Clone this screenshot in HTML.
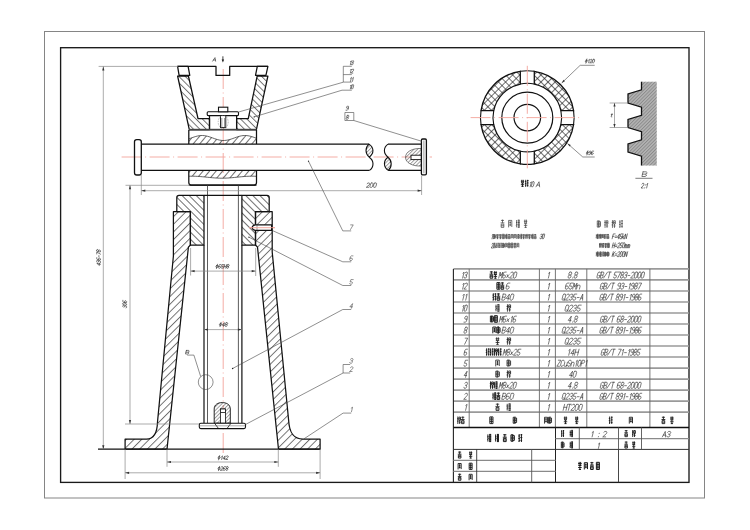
<!DOCTYPE html><html><head><meta charset="utf-8"><title>Screw jack assembly drawing</title><style>html,body{margin:0;padding:0;background:#fff;width:750px;height:530px;overflow:hidden}svg{display:block;font-family:"Liberation Sans",sans-serif}</style></head><body><svg width="750" height="530" viewBox="0 0 750 530" font-family="Liberation Sans, sans-serif"><defs>
<pattern id="hA" patternUnits="userSpaceOnUse" width="5.4" height="10" patternTransform="rotate(45)"><line x1="0.5" y1="0" x2="0.5" y2="10" stroke="#222" stroke-width="0.65"/></pattern>
<pattern id="hB" patternUnits="userSpaceOnUse" width="5.0" height="10" patternTransform="rotate(-45)"><line x1="0.5" y1="0" x2="0.5" y2="10" stroke="#222" stroke-width="0.65"/></pattern>
<pattern id="hC" patternUnits="userSpaceOnUse" width="4.5" height="10" patternTransform="rotate(-45)"><line x1="0.5" y1="0" x2="0.5" y2="10" stroke="#222" stroke-width="0.65"/></pattern>
<pattern id="hH" patternUnits="userSpaceOnUse" width="5.0" height="10" patternTransform="rotate(40)"><line x1="0.5" y1="0" x2="0.5" y2="10" stroke="#222" stroke-width="0.65"/></pattern>
<pattern id="hS" patternUnits="userSpaceOnUse" width="2.6" height="10" patternTransform="rotate(45)"><line x1="0.5" y1="0" x2="0.5" y2="10" stroke="#333" stroke-width="0.5"/></pattern>
<pattern id="hX" patternUnits="userSpaceOnUse" width="5.0" height="5.0" patternTransform="rotate(45)"><path d="M0.5,0 V5 M0,0.5 H5" stroke="#222" stroke-width="0.65" fill="none"/></pattern>
<pattern id="hD" patternUnits="userSpaceOnUse" width="2.4" height="10" patternTransform="rotate(45)"><line x1="0.5" y1="0" x2="0.5" y2="10" stroke="#777" stroke-width="0.7"/></pattern>
</defs><rect width="750" height="530" fill="#fff"/><rect x="44.5" y="31.5" width="660" height="466.5" fill="none" stroke="#858585" stroke-width="1"/>
<rect x="60.6" y="47.7" width="628.4" height="434.7" fill="none" stroke="#1a1a1a" stroke-width="1.35"/>
<line x1="223.20" y1="69.00" x2="223.20" y2="453.00" stroke="#f3a49b" stroke-width="0.9" fill="none" stroke-dasharray="20 3.5 1 3.5"/>
<line x1="121.60" y1="157.00" x2="432.00" y2="157.00" stroke="#f3a49b" stroke-width="0.9" fill="none" stroke-dasharray="20 3.5 1 3.5"/>
<line x1="249.00" y1="227.70" x2="275.00" y2="227.70" stroke="#f3a49b" stroke-width="0.9"/>
<path d="M177.6,66.4 H216 V75.4 H229.7 V66.4 H267.9" stroke="#111" stroke-width="1.25" fill="none" stroke-linejoin="round"/>
<path d="M177.60,66.40 L188.10,66.40 L189.80,75.30 L179.10,75.30 Z" stroke="#111" stroke-width="1.25" fill="none" stroke-linejoin="round"/>
<path d="M257.30,66.40 L267.90,66.40 L265.90,75.30 L255.50,75.30 Z" stroke="#111" stroke-width="1.25" fill="none" stroke-linejoin="round"/>
<path d="M177.60,76.00 L188.40,76.00 L198.00,118.50 L209.50,118.50 L209.50,129.60 L189.30,129.60 Z" fill="url(#hC)" stroke="none"/>
<path d="M177.60,76.00 L188.40,76.00 L198.00,118.50 L209.50,118.50 L209.50,129.60 L189.30,129.60 Z" stroke="#111" stroke-width="1.25" fill="none" stroke-linejoin="round"/>
<path d="M267.90,76.00 L257.20,76.00 L248.30,118.50 L236.60,118.50 L236.60,129.60 L256.40,129.60 Z" fill="url(#hC)" stroke="none"/>
<path d="M267.90,76.00 L257.20,76.00 L248.30,118.50 L236.60,118.50 L236.60,129.60 L256.40,129.60 Z" stroke="#111" stroke-width="1.25" fill="none" stroke-linejoin="round"/>
<line x1="209.50" y1="116.00" x2="209.50" y2="129.60" stroke="#111" stroke-width="1.25" fill="none" stroke-linejoin="round"/>
<line x1="236.60" y1="116.00" x2="236.60" y2="129.60" stroke="#111" stroke-width="1.25" fill="none" stroke-linejoin="round"/>
<rect x="207.2" y="111.8" width="31.3" height="3.8" rx="1" fill="#fff" stroke="#111" stroke-width="1.1"/>
<rect x="218.5" y="107.2" width="9.3" height="4.6" fill="#fff" stroke="#111" stroke-width="1.1"/>
<rect x="220.5" y="115.6" width="5.3" height="12" fill="#fff" stroke="#111" stroke-width="0.9"/>
<line x1="221.80" y1="118.00" x2="221.80" y2="127.00" stroke="#555" stroke-width="0.6" fill="none"/>
<line x1="224.50" y1="118.00" x2="224.50" y2="127.00" stroke="#555" stroke-width="0.6" fill="none"/>
<ellipse cx="223.2" cy="122" rx="5" ry="6.5" fill="none" stroke="#777" stroke-width="0.5" stroke-dasharray="1.5 1"/>
<rect x="189" y="128.8" width="67.5" height="1.8" fill="#444"/>
<path d="M188.8,130 V144.1 M256.5,130 V144.1 M188.8,170.5 V182.5 Q188.8,185 191.3,185 H254 Q256.5,185 256.5,182.5 V170.5" stroke="#111" stroke-width="1.25" fill="none" stroke-linejoin="round"/>
<line x1="188.80" y1="185.00" x2="256.50" y2="185.00" stroke="#111" stroke-width="1.25" fill="none" stroke-linejoin="round"/>
<path d="M189.00,138.81 L190.69,138.21 L192.38,137.59 L194.06,137.00 L195.75,136.47 L197.44,136.04 L199.12,135.72 L200.81,135.54 L202.50,135.51 L204.19,135.63 L205.88,135.89 L207.56,136.28 L209.25,136.78 L210.94,137.35 L212.62,137.95 L214.31,138.57 L216.00,139.14 L217.69,139.65 L219.38,140.06 L221.06,140.34 L222.75,140.49 L224.44,140.48 L226.12,140.32 L227.81,140.02 L229.50,139.60 L231.19,139.08 L232.88,138.50 L234.56,137.89 L236.25,137.28 L237.94,136.72 L239.62,136.23 L241.31,135.85 L243.00,135.61 L244.69,135.50 L246.38,135.55 L248.06,135.75 L249.75,136.08 L251.44,136.53 L253.12,137.06 L254.81,137.66 L256.50,138.27 L256.50,144.10 L189.00,144.10 Z" fill="url(#hH)" stroke="none"/>
<path d="M189.00,138.81 L190.69,138.21 L192.38,137.59 L194.06,137.00 L195.75,136.47 L197.44,136.04 L199.12,135.72 L200.81,135.54 L202.50,135.51 L204.19,135.63 L205.88,135.89 L207.56,136.28 L209.25,136.78 L210.94,137.35 L212.62,137.95 L214.31,138.57 L216.00,139.14 L217.69,139.65 L219.38,140.06 L221.06,140.34 L222.75,140.49 L224.44,140.48 L226.12,140.32 L227.81,140.02 L229.50,139.60 L231.19,139.08 L232.88,138.50 L234.56,137.89 L236.25,137.28 L237.94,136.72 L239.62,136.23 L241.31,135.85 L243.00,135.61 L244.69,135.50 L246.38,135.55 L248.06,135.75 L249.75,136.08 L251.44,136.53 L253.12,137.06 L254.81,137.66 L256.50,138.27" stroke="#222" stroke-width="0.7" fill="none"/>
<path d="M189.00,170.60 L256.50,170.60 L256.50,176.31 L254.81,176.24 L253.12,176.21 L251.44,176.20 L249.75,176.23 L248.06,176.28 L246.38,176.37 L244.69,176.48 L243.00,176.61 L241.31,176.76 L239.62,176.93 L237.94,177.10 L236.25,177.28 L234.56,177.45 L232.88,177.62 L231.19,177.77 L229.50,177.91 L227.81,178.02 L226.12,178.11 L224.44,178.17 L222.75,178.20 L221.06,178.20 L219.38,178.16 L217.69,178.10 L216.00,178.01 L214.31,177.89 L212.62,177.76 L210.94,177.60 L209.25,177.43 L207.56,177.26 L205.88,177.08 L204.19,176.91 L202.50,176.75 L200.81,176.60 L199.12,176.47 L197.44,176.36 L195.75,176.28 L194.06,176.22 L192.38,176.20 L190.69,176.21 L189.00,176.25 Z" fill="url(#hH)" stroke="none"/>
<path d="M189.00,176.25 L190.69,176.21 L192.38,176.20 L194.06,176.22 L195.75,176.28 L197.44,176.36 L199.12,176.47 L200.81,176.60 L202.50,176.75 L204.19,176.91 L205.88,177.08 L207.56,177.26 L209.25,177.43 L210.94,177.60 L212.62,177.76 L214.31,177.89 L216.00,178.01 L217.69,178.10 L219.38,178.16 L221.06,178.20 L222.75,178.20 L224.44,178.17 L226.12,178.11 L227.81,178.02 L229.50,177.91 L231.19,177.77 L232.88,177.62 L234.56,177.45 L236.25,177.28 L237.94,177.10 L239.62,176.93 L241.31,176.76 L243.00,176.61 L244.69,176.48 L246.38,176.37 L248.06,176.28 L249.75,176.23 L251.44,176.20 L253.12,176.21 L254.81,176.24 L256.50,176.31" stroke="#222" stroke-width="0.7" fill="none"/>
<rect x="134.5" y="139.6" width="6.8" height="35.4" rx="2.2" fill="none" stroke="#111" stroke-width="1.3"/>
<path d="M141.3,144.1 H369 M141.3,170.4 H369.5 M388,144.1 H421.5 M388.3,170.4 H421.5" stroke="#111" stroke-width="1.25" fill="none" stroke-linejoin="round"/>
<path d="M369,144.1 C365,147.5 365,153.5 369.2,157.2 C374.2,153.5 374.2,147.5 369,144.1 Z" fill="url(#hS)" stroke="none"/>
<path d="M369,144.1 C365,147.5 365,153.5 369.2,157.2 C374.2,153.5 374.2,147.5 369,144.1 Z" stroke="#111" stroke-width="1.1" fill="none"/>
<path d="M369.2,157.2 C374.2,160.5 374.2,166.8 369.5,170.4" stroke="#111" stroke-width="1.1" fill="none"/>
<path d="M388,144.1 C383.2,147.5 383.2,153.5 388,157.2" stroke="#111" stroke-width="1.1" fill="none"/>
<path d="M388,157.2 C383.2,160.5 383.2,166.8 388.3,170.4 C392.2,166.8 392.2,160.5 388,157.2 Z" fill="url(#hS)" stroke="none"/>
<path d="M388,157.2 C383.2,160.5 383.2,166.8 388.3,170.4 C392.2,166.8 392.2,160.5 388,157.2 Z" stroke="#111" stroke-width="1.1" fill="none"/>
<path d="M421.4,148.5 C412,148 405.5,152 405.5,157.3 C405.5,162.5 412,166.5 421.4,166 Z" fill="url(#hS)" stroke="none"/>
<path d="M421.4,148.5 C412,148 405.5,152 405.5,157.3 C405.5,162.5 412,166.5 421.4,166 Z" stroke="#333" stroke-width="0.6" fill="none"/>
<rect x="411" y="155.2" width="10.4" height="4.4" fill="#fff" stroke="#111" stroke-width="0.9"/>
<rect x="421.4" y="139" width="5" height="35.8" rx="1.2" fill="#fff" stroke="#111" stroke-width="1.3"/>
<line x1="423.90" y1="140.50" x2="423.90" y2="173.30" stroke="#555" stroke-width="0.6" fill="none"/>
<line x1="207.50" y1="185.00" x2="207.50" y2="423.00" stroke="#333" stroke-width="0.8"/>
<line x1="238.40" y1="185.00" x2="238.40" y2="423.00" stroke="#333" stroke-width="0.8"/>
<line x1="204.00" y1="245.00" x2="204.00" y2="423.20" stroke="#111" stroke-width="1.2"/>
<line x1="241.90" y1="245.00" x2="241.90" y2="423.20" stroke="#111" stroke-width="1.2"/>
<path d="M176.8,211.7 V197.5 Q176.8,195.3 179,195.3 H204 V245 H190.4 V211.7 Z" fill="url(#hB)" stroke="none"/>
<path d="M176.8,211.7 V197.5 Q176.8,195.3 179,195.3 H204 V245 H190.4 V211.7 Z" stroke="#111" stroke-width="1.25" fill="none" stroke-linejoin="round"/>
<path d="M241.9,195.3 H267 Q269.2,195.3 269.2,197.5 V211.7 H255.5 V245 H241.9 Z" fill="url(#hB)" stroke="none"/>
<path d="M241.9,195.3 H267 Q269.2,195.3 269.2,197.5 V211.7 H255.5 V245 H241.9 Z" stroke="#111" stroke-width="1.25" fill="none" stroke-linejoin="round"/>
<line x1="204.00" y1="195.30" x2="241.90" y2="195.30" stroke="#111" stroke-width="1.25" fill="none" stroke-linejoin="round"/>
<path d="M173.4,211.7 H190.4 V245 L188.4,247.2 L167,449.2 H125.1 V439.1 H146.5 C153,439 157.2,433 157.5,422 L173.4,256 Z" fill="url(#hA)" stroke="none"/>
<path d="M173.4,211.7 H190.4 V245 L188.4,247.2 L167,449.2 H125.1 V439.1 H146.5 C153,439 157.2,433 157.5,422 L173.4,256 Z" stroke="#111" stroke-width="1.25" fill="none" stroke-linejoin="round"/>
<path d="M255.5,211.7 H272.2 V252 L288.6,420 C289.3,433 293.5,439 303,439.1 H320.1 V449.2 H278.5 L257.5,247.2 L255.5,245 Z" fill="url(#hA)" stroke="none"/>
<path d="M255.5,211.7 H272.2 V252 L288.6,420 C289.3,433 293.5,439 303,439.1 H320.1 V449.2 H278.5 L257.5,247.2 L255.5,245 Z" stroke="#111" stroke-width="1.25" fill="none" stroke-linejoin="round"/>
<path d="M255.2,224.8 H271.6 V230.4 H255.2 Q252.2,229.8 252.2,227.6 Q252.2,225.4 255.2,224.8 Z" stroke="#111" stroke-width="1.2" fill="#fff"/>
<line x1="257.00" y1="224.90" x2="257.00" y2="230.30" stroke="#333" stroke-width="0.5"/>
<line x1="249.00" y1="227.70" x2="275.00" y2="227.70" stroke="#f3a49b" stroke-width="0.9"/>
<line x1="98.00" y1="449.20" x2="320.10" y2="449.20" stroke="#111" stroke-width="1.2"/>
<path d="M214.2,423.2 V409 C214.2,404.5 218,402.6 222.2,402.6 C226.5,402.6 230.3,404.5 230.3,409 V423.2 Z" fill="url(#hS)" stroke="none"/>
<path d="M214.2,423.2 V409 C214.2,404.5 218,402.6 222.2,402.6 C226.5,402.6 230.3,404.5 230.3,409 V423.2 Z" stroke="#111" stroke-width="0.9" fill="none"/>
<rect x="220.4" y="409" width="5" height="14.2" fill="#fff" stroke="#111" stroke-width="0.8"/>
<rect x="220.4" y="409" width="5" height="3.5" fill="#fff" stroke="#111" stroke-width="0.8"/>
<rect x="199.3" y="423.2" width="46.2" height="5.4" rx="1.5" fill="#fff" stroke="#111" stroke-width="1.1"/>
<path d="M214.5,423.2 L218.5,428.5 M231,423.2 L227,428.5" stroke="#111" stroke-width="0.8" fill="none"/>
<line x1="199.30" y1="425.80" x2="245.50" y2="425.80" stroke="#555" stroke-width="0.5"/>
<line x1="98.60" y1="66.40" x2="178.00" y2="66.40" stroke="#888" stroke-width="0.7"/>
<line x1="103.30" y1="66.40" x2="103.30" y2="449.20" stroke="#888" stroke-width="0.7"/>
<path d="M103.30,66.40 L104.40,70.40 L102.20,70.40 Z" fill="#333" stroke="none"/>
<path d="M103.30,449.20 L102.20,445.20 L104.40,445.20 Z" fill="#333" stroke="none"/>
<path d="M94.26,258.00L95.20,254.26L93.03,256.88L95.05,256.88M96.21,254.88L96.87,254.26L97.88,254.26L98.23,254.88L98.07,255.50L97.41,256.13L96.70,256.13M97.41,256.13L97.76,256.75L97.60,257.38L96.94,258.00L95.93,258.00L95.58,257.38M100.86,254.26L99.54,254.26L98.88,254.88L98.26,257.38L98.61,258.00L99.62,258.00L100.28,257.38L100.43,256.75L100.08,256.13L98.57,256.13M101.49,256.38L102.90,256.38M104.49,254.26L106.51,254.26L104.31,258.00M107.67,254.26L108.68,254.26L109.03,254.88L108.87,255.50L108.21,256.13L107.20,256.13L106.85,255.50L107.01,254.88L107.67,254.26M107.20,256.13L106.54,256.75L106.39,257.38L106.74,258.00L107.75,258.00L108.41,257.38L108.56,256.75L108.21,256.13" stroke="#2a2a2a" stroke-width="0.62" fill="none" stroke-linecap="round" stroke-linejoin="round" transform="rotate(-90 100.5 258)"/>
<line x1="125.50" y1="185.30" x2="190.00" y2="185.30" stroke="#888" stroke-width="0.7"/>
<line x1="125.00" y1="424.00" x2="199.00" y2="424.00" stroke="#888" stroke-width="0.7"/>
<line x1="130.00" y1="185.30" x2="130.00" y2="424.00" stroke="#888" stroke-width="0.7"/>
<path d="M130.00,185.30 L131.10,189.30 L128.90,189.30 Z" fill="#333" stroke="none"/>
<path d="M130.00,424.00 L128.90,420.00 L131.10,420.00 Z" fill="#333" stroke="none"/>
<path d="M123.88,301.38L124.52,300.76L125.47,300.76L125.80,301.38L125.64,302.00L125.01,302.63L124.34,302.63M125.01,302.63L125.33,303.25L125.17,303.88L124.54,304.50L123.58,304.50L123.26,303.88M127.06,300.76L128.02,300.76L128.34,301.38L127.71,303.88L127.08,304.50L126.12,304.50L125.80,303.88L126.42,301.38L127.06,300.76M130.84,300.76L129.60,300.76L128.96,301.38L128.34,303.88L128.66,304.50L129.62,304.50L130.26,303.88L130.41,303.25L130.09,302.63L128.65,302.63" stroke="#2a2a2a" stroke-width="0.62" fill="none" stroke-linecap="round" stroke-linejoin="round" transform="rotate(-90 126.6 304.5)"/>
<line x1="141.30" y1="175.00" x2="141.30" y2="195.00" stroke="#888" stroke-width="0.7"/>
<line x1="421.60" y1="175.50" x2="421.60" y2="195.00" stroke="#888" stroke-width="0.7"/>
<line x1="141.30" y1="190.70" x2="421.60" y2="190.70" stroke="#888" stroke-width="0.7"/>
<path d="M141.30,190.70 L145.30,189.60 L145.30,191.80 Z" fill="#333" stroke="none"/>
<path d="M421.60,190.70 L417.60,191.80 L417.60,189.60 Z" fill="#333" stroke="none"/>
<path d="M367.15,183.70L367.98,182.98L369.28,182.98L369.75,183.70L369.54,184.56L366.25,187.30L368.85,187.30M371.43,182.98L372.73,182.98L373.20,183.70L372.48,186.58L371.65,187.30L370.35,187.30L369.88,186.58L370.60,183.70L371.43,182.98M374.88,182.98L376.18,182.98L376.65,183.70L375.93,186.58L375.10,187.30L373.80,187.30L373.33,186.58L374.05,183.70L374.88,182.98" stroke="#2a2a2a" stroke-width="0.62" fill="none" stroke-linecap="round" stroke-linejoin="round"/>
<line x1="190.60" y1="248.00" x2="190.60" y2="275.50" stroke="#888" stroke-width="0.7"/>
<line x1="255.70" y1="248.00" x2="255.70" y2="276.00" stroke="#888" stroke-width="0.7"/>
<line x1="190.60" y1="271.10" x2="255.70" y2="271.10" stroke="#888" stroke-width="0.7"/>
<path d="M190.60,271.10 L194.60,270.00 L194.60,272.20 Z" fill="#333" stroke="none"/>
<path d="M255.70,271.10 L251.70,272.20 L251.70,270.00 Z" fill="#333" stroke="none"/>
<path d="M217.52,264.24L216.44,268.56M216.71,265.44L217.74,265.44L218.10,266.04L217.92,266.76L217.26,267.36L216.23,267.36L215.86,266.76L216.04,266.04L216.71,265.44M220.99,264.60L219.65,264.60L218.98,265.20L218.38,267.60L218.75,268.20L219.78,268.20L220.45,267.60L220.60,267.00L220.23,266.40L218.68,266.40M223.93,264.60L222.07,264.60L221.42,266.40L222.97,266.40L223.33,267.00L223.18,267.60L222.52,268.20L221.48,268.20L221.12,267.60M224.60,264.60L223.70,268.20M226.67,264.60L225.77,268.20M224.15,266.40L226.22,266.40M227.85,264.60L228.88,264.60L229.25,265.20L229.10,265.80L228.43,266.40L227.40,266.40L227.04,265.80L227.19,265.20L227.85,264.60M227.40,266.40L226.74,267.00L226.59,267.60L226.95,268.20L227.98,268.20L228.65,267.60L228.80,267.00L228.43,266.40" stroke="#2a2a2a" stroke-width="0.62" fill="none" stroke-linecap="round" stroke-linejoin="round"/>
<line x1="204.00" y1="329.60" x2="241.90" y2="329.60" stroke="#888" stroke-width="0.7"/>
<path d="M204.00,329.60 L208.00,328.50 L208.00,330.70 Z" fill="#333" stroke="none"/>
<path d="M241.90,329.60 L237.90,330.70 L237.90,328.50 Z" fill="#333" stroke="none"/>
<path d="M221.09,322.34L220.01,326.66M220.24,323.54L221.33,323.54L221.73,324.14L221.55,324.86L220.85,325.46L219.76,325.46L219.36,324.86L219.54,324.14L220.24,323.54M223.55,326.30L224.45,322.70L222.17,325.22L224.37,325.22M226.26,322.70L227.35,322.70L227.75,323.30L227.60,323.90L226.90,324.50L225.81,324.50L225.41,323.90L225.56,323.30L226.26,322.70M225.81,324.50L225.11,325.10L224.96,325.70L225.36,326.30L226.45,326.30L227.15,325.70L227.30,325.10L226.90,324.50" stroke="#2a2a2a" stroke-width="0.62" fill="none" stroke-linecap="round" stroke-linejoin="round"/>
<line x1="167.00" y1="449.20" x2="167.00" y2="466.80" stroke="#888" stroke-width="0.7"/>
<line x1="278.30" y1="449.20" x2="278.30" y2="466.80" stroke="#888" stroke-width="0.7"/>
<line x1="167.00" y1="462.00" x2="278.30" y2="462.00" stroke="#888" stroke-width="0.7"/>
<path d="M167.00,462.00 L171.00,460.90 L171.00,463.10 Z" fill="#333" stroke="none"/>
<path d="M278.30,462.00 L274.30,463.10 L274.30,460.90 Z" fill="#333" stroke="none"/>
<path d="M219.64,455.54L218.56,459.86M218.81,456.74L219.86,456.74L220.23,457.34L220.05,458.06L219.38,458.66L218.33,458.66L217.96,458.06L218.14,457.34L218.81,456.74M221.62,456.62L222.53,455.90L221.63,459.50M224.30,459.50L225.20,455.90L223.00,458.42L225.10,458.42M226.26,456.50L226.93,455.90L227.98,455.90L228.35,456.50L228.17,457.22L225.51,459.50L227.60,459.50" stroke="#2a2a2a" stroke-width="0.62" fill="none" stroke-linecap="round" stroke-linejoin="round"/>
<line x1="125.10" y1="449.20" x2="125.10" y2="479.00" stroke="#888" stroke-width="0.7"/>
<line x1="320.10" y1="449.20" x2="320.10" y2="479.00" stroke="#888" stroke-width="0.7"/>
<line x1="125.10" y1="472.80" x2="320.10" y2="472.80" stroke="#888" stroke-width="0.7"/>
<path d="M125.10,472.80 L129.10,471.70 L129.10,473.90 Z" fill="#333" stroke="none"/>
<path d="M320.10,472.80 L316.10,473.90 L316.10,471.70 Z" fill="#333" stroke="none"/>
<path d="M219.60,466.34L218.52,470.66M218.79,467.54L219.80,467.54L220.15,468.14L219.97,468.86L219.32,469.46L218.31,469.46L217.96,468.86L218.14,468.14L218.79,467.54M221.01,467.30L221.67,466.70L222.67,466.70L223.02,467.30L222.84,468.02L220.26,470.30L222.27,470.30M225.64,466.70L224.33,466.70L223.68,467.30L223.08,469.70L223.43,470.30L224.43,470.30L225.09,469.70L225.24,469.10L224.88,468.50L223.38,468.50M226.99,466.70L228.00,466.70L228.35,467.30L228.20,467.90L227.55,468.50L226.54,468.50L226.19,467.90L226.34,467.30L226.99,466.70M226.54,468.50L225.89,469.10L225.74,469.70L226.09,470.30L227.10,470.30L227.75,469.70L227.90,469.10L227.55,468.50" stroke="#2a2a2a" stroke-width="0.62" fill="none" stroke-linecap="round" stroke-linejoin="round"/>
<line x1="222.90" y1="56.30" x2="222.90" y2="60.00" stroke="#111" stroke-width="0.8"/>
<path d="M222.90,62.50 L221.70,59.50 L224.10,59.50 Z" fill="#111" stroke="none"/>
<path d="M212.60,61.20L215.00,57.60L215.60,61.20M213.43,60.00L215.38,60.00" stroke="#2a2a2a" stroke-width="0.62" fill="none" stroke-linecap="round" stroke-linejoin="round"/>
<path d="M343.3,66.3 V82.1 M343.3,66.3 H351.8 M343.3,74.6 H351.8 M343.3,82.1 H351.8" stroke="#444" stroke-width="0.6" fill="none"/>
<line x1="343.30" y1="82.20" x2="238.60" y2="112.00" stroke="#444" stroke-width="0.6"/>
<path d="M350.61,61.57L351.37,60.77L350.36,64.80M352.04,61.44L352.61,60.77L353.41,60.77L353.64,61.44L353.47,62.11L352.90,62.78L352.34,62.78M352.90,62.78L353.14,63.46L352.97,64.13L352.40,64.80L351.60,64.80L351.37,64.13" stroke="#2a2a2a" stroke-width="0.62" fill="none" stroke-linecap="round" stroke-linejoin="round"/>
<path d="M350.61,69.87L351.37,69.07L350.36,73.10M352.04,69.74L352.61,69.07L353.41,69.07L353.64,69.74L353.44,70.55L351.20,73.10L352.80,73.10" stroke="#2a2a2a" stroke-width="0.62" fill="none" stroke-linecap="round" stroke-linejoin="round"/>
<path d="M350.65,78.17L351.47,77.37L350.46,81.40M352.63,78.17L353.45,77.37L352.45,81.40" stroke="#2a2a2a" stroke-width="0.62" fill="none" stroke-linecap="round" stroke-linejoin="round"/>
<line x1="342.00" y1="90.20" x2="351.80" y2="90.20" stroke="#444" stroke-width="0.6"/>
<line x1="342.00" y1="90.20" x2="253.80" y2="117.00" stroke="#444" stroke-width="0.6"/>
<path d="M350.61,85.67L351.37,84.87L350.36,88.90M352.61,84.87L353.41,84.87L353.64,85.54L352.97,88.23L352.40,88.90L351.60,88.90L351.37,88.23L352.04,85.54L352.61,84.87" stroke="#2a2a2a" stroke-width="0.62" fill="none" stroke-linecap="round" stroke-linejoin="round"/>
<circle cx="254.2" cy="116.8" r="0.6" fill="#222"/>
<path d="M344.9,112.5 V120.5 H353.8 V112.5 H344.9" stroke="#444" stroke-width="0.6" fill="none"/>
<line x1="353.80" y1="120.50" x2="421.80" y2="141.30" stroke="#444" stroke-width="0.6"/>
<path d="M348.30,108.18L346.80,108.18L346.47,107.51L346.64,106.84L347.31,106.17L348.31,106.17L348.64,106.84L347.97,109.53L347.30,110.20L346.00,110.20" stroke="#2a2a2a" stroke-width="0.62" fill="none" stroke-linecap="round" stroke-linejoin="round"/>
<path d="M347.51,115.27L348.51,115.27L348.84,115.94L348.67,116.61L348.00,117.28L347.00,117.28L346.67,116.61L346.84,115.94L347.51,115.27M347.00,117.28L346.34,117.96L346.17,118.63L346.50,119.30L347.50,119.30L348.17,118.63L348.34,117.96L348.00,117.28" stroke="#2a2a2a" stroke-width="0.62" fill="none" stroke-linecap="round" stroke-linejoin="round"/>
<line x1="308.50" y1="161.20" x2="342.80" y2="230.90" stroke="#444" stroke-width="0.6"/>
<line x1="342.80" y1="230.90" x2="351.20" y2="230.90" stroke="#444" stroke-width="0.6"/>
<path d="M350.65,224.89L353.25,224.89L350.48,229.50" stroke="#2a2a2a" stroke-width="0.5" fill="none" stroke-linecap="round" stroke-linejoin="round"/>
<circle cx="308.5" cy="161.2" r="0.6" fill="#222"/>
<line x1="272.50" y1="230.60" x2="342.80" y2="261.80" stroke="#444" stroke-width="0.6"/>
<line x1="342.80" y1="261.80" x2="351.20" y2="261.80" stroke="#444" stroke-width="0.6"/>
<path d="M352.99,255.89L351.30,255.89L350.46,256.66L349.69,259.73L350.15,260.50L351.45,260.50L352.29,259.73L352.48,258.96L352.03,258.20L350.08,258.20" stroke="#2a2a2a" stroke-width="0.5" fill="none" stroke-linecap="round" stroke-linejoin="round"/>
<line x1="248.90" y1="237.20" x2="342.80" y2="285.50" stroke="#444" stroke-width="0.6"/>
<line x1="342.80" y1="285.50" x2="351.20" y2="285.50" stroke="#444" stroke-width="0.6"/>
<path d="M353.25,279.59L350.91,279.59L350.08,281.90L352.03,281.90L352.48,282.66L352.29,283.43L351.45,284.20L350.15,284.20L349.69,283.43" stroke="#2a2a2a" stroke-width="0.5" fill="none" stroke-linecap="round" stroke-linejoin="round"/>
<circle cx="248.9" cy="237.2" r="0.6" fill="#222"/>
<line x1="232.60" y1="368.50" x2="342.80" y2="309.50" stroke="#444" stroke-width="0.6"/>
<line x1="342.80" y1="309.50" x2="351.20" y2="309.50" stroke="#444" stroke-width="0.6"/>
<path d="M351.45,308.20L352.60,303.59L349.85,306.82L352.45,306.82" stroke="#2a2a2a" stroke-width="0.5" fill="none" stroke-linecap="round" stroke-linejoin="round"/>
<circle cx="232.6" cy="368.5" r="0.7" fill="#222"/>
<path d="M343.1,364.5 V373 H350.2 M343.1,364.5 H350.2" stroke="#444" stroke-width="0.6" fill="none"/>
<line x1="343.10" y1="373.00" x2="245.50" y2="424.50" stroke="#444" stroke-width="0.6"/>
<path d="M350.46,359.36L351.30,358.59L352.60,358.59L353.06,359.36L352.87,360.13L352.03,360.90L351.12,360.90M352.03,360.90L352.48,361.66L352.29,362.43L351.45,363.20L350.15,363.20L349.69,362.43" stroke="#2a2a2a" stroke-width="0.5" fill="none" stroke-linecap="round" stroke-linejoin="round"/>
<path d="M350.46,367.66L351.30,366.89L352.60,366.89L353.06,367.66L352.83,368.58L349.50,371.50L352.10,371.50" stroke="#2a2a2a" stroke-width="0.5" fill="none" stroke-linecap="round" stroke-linejoin="round"/>
<line x1="343.10" y1="413.10" x2="351.20" y2="413.10" stroke="#444" stroke-width="0.6"/>
<line x1="343.10" y1="413.10" x2="304.00" y2="438.80" stroke="#444" stroke-width="0.6"/>
<path d="M351.23,408.11L352.60,407.19L351.45,411.80" stroke="#2a2a2a" stroke-width="0.5" fill="none" stroke-linecap="round" stroke-linejoin="round"/>
<circle cx="205.7" cy="382.1" r="7.4" fill="none" stroke="#444" stroke-width="0.6"/>
<path d="M187.2,355.1 H193.9 L200.7,376.6" stroke="#444" stroke-width="0.6" fill="none"/>
<path d="M186.40,350.40L185.50,354.00L187.75,354.00L188.65,353.40L188.80,352.80L188.20,352.20L185.95,352.20M186.40,350.40L188.65,350.40L189.25,351.00L189.10,351.60L188.20,352.20" stroke="#2a2a2a" stroke-width="0.62" fill="none" stroke-linecap="round" stroke-linejoin="round"/>
<path d="M573.57,124.60 A46.8,46.8 0 0 1 534.30,163.87 L534.30,151.18 A34.3,34.3 0 0 0 560.88,124.60 Z" fill="url(#hX)" stroke="none"/>
<path d="M573.57,124.60 A46.8,46.8 0 0 1 534.30,163.87 L534.30,151.18 A34.3,34.3 0 0 0 560.88,124.60 Z" stroke="#111" stroke-width="1.3" fill="none" stroke-linejoin="miter"/>
<path d="M520.30,163.87 A46.8,46.8 0 0 1 481.03,124.60 L493.72,124.60 A34.3,34.3 0 0 0 520.30,151.18 Z" fill="url(#hX)" stroke="none"/>
<path d="M520.30,163.87 A46.8,46.8 0 0 1 481.03,124.60 L493.72,124.60 A34.3,34.3 0 0 0 520.30,151.18 Z" stroke="#111" stroke-width="1.3" fill="none" stroke-linejoin="miter"/>
<path d="M481.03,110.60 A46.8,46.8 0 0 1 520.30,71.33 L520.30,84.02 A34.3,34.3 0 0 0 493.72,110.60 Z" fill="url(#hX)" stroke="none"/>
<path d="M481.03,110.60 A46.8,46.8 0 0 1 520.30,71.33 L520.30,84.02 A34.3,34.3 0 0 0 493.72,110.60 Z" stroke="#111" stroke-width="1.3" fill="none" stroke-linejoin="miter"/>
<path d="M534.30,71.33 A46.8,46.8 0 0 1 573.57,110.60 L560.88,110.60 A34.3,34.3 0 0 0 534.30,84.02 Z" fill="url(#hX)" stroke="none"/>
<path d="M534.30,71.33 A46.8,46.8 0 0 1 573.57,110.60 L560.88,110.60 A34.3,34.3 0 0 0 534.30,84.02 Z" stroke="#111" stroke-width="1.3" fill="none" stroke-linejoin="miter"/>
<path d="M573.57,110.60 A46.8,46.8 0 0 1 573.57,124.60 M560.88,110.60 A34.3,34.3 0 0 1 560.88,124.60" stroke="#111" stroke-width="1.1" fill="none"/>
<path d="M534.30,163.87 A46.8,46.8 0 0 1 520.30,163.87 M534.30,151.18 A34.3,34.3 0 0 1 520.30,151.18" stroke="#111" stroke-width="1.1" fill="none"/>
<path d="M481.03,124.60 A46.8,46.8 0 0 1 481.03,110.60 M493.72,124.60 A34.3,34.3 0 0 1 493.72,110.60" stroke="#111" stroke-width="1.1" fill="none"/>
<path d="M520.30,71.33 A46.8,46.8 0 0 1 534.30,71.33 M520.30,84.02 A34.3,34.3 0 0 1 534.30,84.02" stroke="#111" stroke-width="1.1" fill="none"/>
<circle cx="527.3" cy="117.6" r="25.5" fill="none" stroke="#111" stroke-width="1.2"/>
<circle cx="527.3" cy="117.6" r="13.3" fill="none" stroke="#111" stroke-width="1.2"/>
<line x1="470.60" y1="117.60" x2="581.00" y2="117.60" stroke="#f3a49b" stroke-width="0.9" fill="none" stroke-dasharray="20 3.5 1 3.5"/>
<line x1="527.30" y1="65.80" x2="527.30" y2="168.30" stroke="#f3a49b" stroke-width="0.9" fill="none" stroke-dasharray="20 3.5 1 3.5"/>
<line x1="561.70" y1="83.00" x2="580.20" y2="65.30" stroke="#444" stroke-width="0.6"/>
<line x1="580.20" y1="65.30" x2="594.70" y2="65.30" stroke="#444" stroke-width="0.6"/>
<path d="M561.70,83.00 L563.54,79.86 L564.92,81.30 Z" fill="#333" stroke="none"/>
<path d="M586.89,59.00L585.86,63.15M586.13,60.15L587.08,60.15L587.40,60.73L587.23,61.42L586.62,61.99L585.67,61.99L585.35,61.42L585.52,60.73L586.13,60.15M588.66,60.04L589.49,59.34L588.63,62.80M590.34,59.92L590.95,59.34L591.90,59.34L592.22,59.92L592.05,60.61L589.62,62.80L591.50,62.80M593.45,59.34L594.39,59.34L594.72,59.92L594.14,62.22L593.53,62.80L592.59,62.80L592.26,62.22L592.84,59.92L593.45,59.34" stroke="#2a2a2a" stroke-width="0.62" fill="none" stroke-linecap="round" stroke-linejoin="round"/>
<line x1="567.50" y1="143.50" x2="582.80" y2="157.00" stroke="#444" stroke-width="0.6"/>
<line x1="582.80" y1="157.00" x2="594.70" y2="157.00" stroke="#444" stroke-width="0.6"/>
<path d="M567.50,143.50 L570.79,145.06 L569.47,146.56 Z" fill="#333" stroke="none"/>
<path d="M587.91,150.80L586.87,154.95M587.14,151.95L588.10,151.95L588.44,152.53L588.26,153.22L587.64,153.79L586.68,153.79L586.35,153.22L586.52,152.53L587.14,151.95M590.89,152.87L589.45,152.87L589.12,152.30L589.26,151.72L589.88,151.14L590.84,151.14L591.18,151.72L590.60,154.02L589.98,154.60L588.73,154.60M593.67,151.14L592.43,151.14L591.80,151.72L591.23,154.02L591.56,154.60L592.52,154.60L593.14,154.02L593.29,153.45L592.95,152.87L591.51,152.87" stroke="#2a2a2a" stroke-width="0.62" fill="none" stroke-linecap="round" stroke-linejoin="round"/>
<path d="M520.88,181.20H524.12M521.78,179.80V182.95M523.22,179.80V182.95M521.06,182.95H523.94M522.50,182.95V186.80M520.88,184.70H524.12M521.42,186.45H523.58M525.69,179.80V186.80M524.90,181.55H526.34M524.90,183.65H526.34M525.08,186.10L526.34,185.05M526.88,180.50H528.50M527.71,179.80V186.80M526.70,182.95H528.50M526.88,185.40H528.32" stroke="#1a1a1a" stroke-width="0.9" fill="none"/>
<path d="M530.50,182.77L531.45,181.76L530.19,186.80M532.98,181.76L533.97,181.76L534.25,182.60L533.41,185.96L532.71,186.80L531.72,186.80L531.43,185.96L532.27,182.60L532.98,181.76" stroke="#2a2a2a" stroke-width="0.62" fill="none" stroke-linecap="round" stroke-linejoin="round"/>
<path d="M536.00,186.80L539.06,181.76L539.60,186.80M537.05,185.12L539.39,185.12" stroke="#2a2a2a" stroke-width="0.62" fill="none" stroke-linecap="round" stroke-linejoin="round"/>
<path d="M641.5,81.7 V89.8 L628,94 V103 L641.5,107.2 V115.3 L628,119.4 V127.5 L641.5,131.7 V139.8 L628,144 V152 L641.5,156.2 V165.5 H656.7 V81.7 Z" fill="#b3b3b3" stroke="none"/>
<path d="M641.5,81.7 V89.8 L628,94 V103 L641.5,107.2 V115.3 L628,119.4 V127.5 L641.5,131.7 V139.8 L628,144 V152 L641.5,156.2 V165.5 H656.7 V81.7 Z" fill="url(#hD)" stroke="none"/>
<path d="M641.5,81.7 V89.8 L628,94 V103 L641.5,107.2 V115.3 L628,119.4 V127.5 L641.5,131.7 V139.8 L628,144 V152 L641.5,156.2 V165.5" stroke="#111" stroke-width="1.3" fill="none"/>
<line x1="609.60" y1="103.00" x2="628.00" y2="103.00" stroke="#888" stroke-width="0.7"/>
<line x1="609.60" y1="127.50" x2="628.00" y2="127.50" stroke="#888" stroke-width="0.7"/>
<line x1="614.50" y1="103.00" x2="614.50" y2="127.50" stroke="#888" stroke-width="0.7"/>
<path d="M614.50,103.00 L615.60,106.50 L613.40,106.50 Z" fill="#333" stroke="none"/>
<path d="M614.50,127.50 L613.40,124.00 L615.60,124.00 Z" fill="#333" stroke="none"/>
<path d="M612.01,113.64L611.26,116.64L611.43,117.00L611.83,117.00M611.23,114.60L612.52,114.60" stroke="#2a2a2a" stroke-width="0.62" fill="none" stroke-linecap="round" stroke-linejoin="round"/>
<path d="M643.07,171.82L641.90,176.50L645.05,176.50L646.30,175.72L646.49,174.94L645.63,174.16L642.49,174.16M643.07,171.82L646.22,171.82L647.08,172.60L646.88,173.38L645.63,174.16" stroke="#2a2a2a" stroke-width="0.62" fill="none" stroke-linecap="round" stroke-linejoin="round"/>
<line x1="635.40" y1="178.30" x2="652.50" y2="178.30" stroke="#444" stroke-width="0.7"/>
<path d="M641.98,184.10L642.67,183.32L643.67,183.32L643.98,184.10L643.74,185.04L641.00,188.00L643.00,188.00M645.43,184.88L645.35,185.19M644.73,187.69L644.65,188.00M646.84,184.26L647.77,183.32L646.60,188.00" stroke="#2a2a2a" stroke-width="0.62" fill="none" stroke-linecap="round" stroke-linejoin="round"/>
<path d="M500.98,220.42H504.02M502.50,219.60V222.88M500.60,222.88H504.40M501.17,224.11H503.83V227.39H501.17ZM501.17,225.75H503.83M508.60,220.42H511.80V226.98M508.60,220.42V227.39M509.44,222.47H510.96M510.20,221.24V226.16M509.25,224.93H511.15M516.57,220.01V227.39M516.00,222.47H517.33M516.19,225.34L517.33,224.11M517.82,220.01H519.61M517.82,222.47H519.61M517.82,224.93H519.61M517.82,227.39H519.61M518.28,220.01V227.39M519.23,220.01V227.39M523.89,221.24H527.31M524.84,219.60V223.29M526.36,219.60V223.29M524.08,223.29H527.12M525.60,223.29V227.80M523.89,225.34H527.31M524.46,227.39H526.74" stroke="#3a3a3a" stroke-width="0.7" fill="none"/>
<path d="M597.28,220.88H598.42V227.12H597.28ZM597.28,224.00H598.42M598.99,220.10V227.90M598.99,221.66H600.51V226.34H598.99M598.99,224.00H600.51M605.06,220.10V227.90M604.30,222.44H605.74M604.30,224.94H605.74M606.20,220.72H607.91V224.00H606.20ZM606.20,222.44H607.91M607.04,224.00V227.90M606.12,226.03H608.10M612.46,220.10V227.90M611.70,222.44H613.14M611.70,224.94H613.14M613.60,220.72H615.31V224.00H613.60ZM613.60,222.44H615.31M614.44,224.00V227.90M613.52,226.03H615.50M619.94,220.10V227.90M619.10,222.05H620.62M619.10,224.39H620.62M619.29,227.12L620.62,225.95M621.19,220.88H622.90M622.06,220.10V227.90M621.00,223.61H622.90M621.19,226.34H622.71" stroke="#3a3a3a" stroke-width="0.7" fill="none"/>
<path d="M492.48,235.00L493.18,234.05L491.99,238.80M493.35,238.48L493.27,238.80" stroke="#2a2a2a" stroke-width="0.62" fill="none" stroke-linecap="round" stroke-linejoin="round"/>
<path d="M493.56,234.49H494.34V238.41H493.56ZM493.56,236.45H494.34M494.73,234.00V238.90M494.73,234.98H495.77V237.92H494.73M494.73,236.45H495.77M496.33,234.98H498.67M496.98,234.00V236.21M498.02,234.00V236.21M496.46,236.21H498.54M497.50,236.21V238.90M496.33,237.43H498.67M496.72,238.66H498.28M499.23,234.98H501.57M499.88,234.00V236.21M500.92,234.00V236.21M499.36,236.21H501.44M500.40,236.21V238.90M499.23,237.43H501.57M499.62,238.66H501.18M502.26,234.25H504.34V238.66H502.26ZM502.26,235.72H504.34M502.26,237.19H504.34M503.30,234.25V238.66M505.29,234.25V238.66M504.90,235.72H505.81M505.03,237.43L505.81,236.69M506.15,234.25H507.37M506.15,235.72H507.37M506.15,237.19H507.37M506.15,238.66H507.37M506.46,234.25V238.66M507.11,234.25V238.66M508.06,234.49H510.14M509.10,234.00V235.96M507.80,235.96H510.40M508.19,236.69H510.01V238.66H508.19ZM508.19,237.68H510.01M510.91,234.49H513.09V238.41M510.91,234.49V238.66M511.48,235.72H512.52M512.00,234.98V237.92M511.35,237.19H512.65M513.81,234.49H515.99V238.41M513.81,234.49V238.66M514.38,235.72H515.42M514.90,234.98V237.92M514.25,237.19H515.55M517.07,234.00V238.90M516.50,235.22H517.54M516.50,236.69H517.54M516.63,238.41L517.54,237.68M517.93,234.49H519.10M518.53,234.00V238.90M517.80,236.21H519.10M517.93,237.92H518.97M519.79,234.25V238.66M519.40,235.72H520.31M519.53,237.43L520.31,236.69M520.65,234.25H521.87M520.65,235.72H521.87M520.65,237.19H521.87M520.65,238.66H521.87M520.96,234.25V238.66M521.61,234.25V238.66M522.43,234.98H524.77M523.08,234.00V236.21M524.12,234.00V236.21M522.56,236.21H524.64M523.60,236.21V238.90M522.43,237.43H524.77M522.82,238.66H524.38M525.72,234.00V238.90M525.20,235.47H526.19M525.20,237.04H526.19M526.50,234.39H527.67V236.45H526.50ZM526.50,235.47H527.67M527.07,236.45V238.90M526.45,237.72H527.80M528.23,234.98H530.57M528.88,234.00V236.21M529.92,234.00V236.21M528.36,236.21H530.44M529.40,236.21V238.90M528.23,237.43H530.57M528.62,238.66H530.18M531.39,234.25V238.66M531.00,235.72H531.91M531.13,237.43L531.91,236.69M532.25,234.25H533.47M532.25,235.72H533.47M532.25,237.19H533.47M532.25,238.66H533.47M532.56,234.25V238.66M533.21,234.25V238.66M534.16,234.49H536.24M535.20,234.00V235.96M533.90,235.96H536.50M534.29,236.69H536.11V238.66H534.29ZM534.29,237.68H536.11" stroke="#333" stroke-width="0.6" fill="none"/>
<path d="M540.79,234.84L541.41,234.05L542.25,234.05L542.47,234.84L542.27,235.63L541.65,236.42L541.06,236.42M541.65,236.42L541.87,237.22L541.68,238.01L541.06,238.80L540.22,238.80L540.00,238.01M543.63,234.05L544.47,234.05L544.69,234.84L543.90,238.01L543.28,238.80L542.44,238.80L542.22,238.01L543.01,234.84L543.63,234.05" stroke="#2a2a2a" stroke-width="0.62" fill="none" stroke-linecap="round" stroke-linejoin="round"/>
<path d="M492.19,244.04L492.68,243.25L493.27,243.25L493.36,244.04L493.13,244.99L491.20,248.00L492.37,248.00M493.36,247.68L493.28,248.00" stroke="#2a2a2a" stroke-width="0.62" fill="none" stroke-linecap="round" stroke-linejoin="round"/>
<path d="M493.56,243.32H495.64M494.60,242.80V244.88M493.30,244.88H495.90M493.69,245.66H495.51V247.74H493.69ZM493.69,246.70H495.51M496.77,242.80V248.00M496.20,244.10H497.24M496.20,245.66H497.24M496.33,247.48L497.24,246.70M497.63,243.32H498.80M498.23,242.80V248.00M497.50,245.14H498.80M497.63,246.96H498.67M499.67,242.80V248.00M499.10,244.10H500.14M499.10,245.66H500.14M499.23,247.48L500.14,246.70M500.53,243.32H501.70M501.13,242.80V248.00M500.40,245.14H501.70M500.53,246.96H501.57M502.26,243.32H503.04V247.48H502.26ZM502.26,245.40H503.04M503.43,242.80V248.00M503.43,243.84H504.47V246.96H503.43M503.43,245.40H504.47M505.11,243.32H507.29V247.48M505.11,243.32V247.74M505.68,244.62H506.72M506.20,243.84V246.96M505.55,246.18H506.85M508.06,243.06H510.14V247.74H508.06ZM508.06,244.62H510.14M508.06,246.18H510.14M509.10,243.06V247.74M510.96,243.06H513.04V247.74H510.96ZM510.96,244.62H513.04M510.96,246.18H513.04M512.00,243.06V247.74M513.73,243.84H516.07M514.38,242.80V245.14M515.42,242.80V245.14M513.86,245.14H515.94M514.90,245.14V248.00M513.73,246.44H516.07M514.12,247.74H515.68M516.71,243.32H518.89V247.48M516.71,243.32V247.74M517.28,244.62H518.32M517.80,243.84V246.96M517.15,246.18H518.45" stroke="#333" stroke-width="0.6" fill="none"/>
<path d="M596.36,234.24V238.56M596.00,235.68H596.84M596.12,237.36L596.84,236.64M597.15,234.24H598.28M597.15,235.68H598.28M597.15,237.12H598.28M597.15,238.56H598.28M597.44,234.24V238.56M598.04,234.24V238.56M599.18,234.00V238.80M598.70,235.44H599.61M598.70,236.98H599.61M599.90,234.38H600.98V236.40H599.90ZM599.90,235.44H600.98M600.43,236.40V238.80M599.85,237.65H601.10M601.59,234.48H603.61V238.32M601.59,234.48V238.56M602.12,235.68H603.08M602.60,234.96V237.84M602.00,237.12H603.20M604.63,234.00V238.80M604.10,235.20H605.06M604.10,236.64H605.06M604.22,238.32L605.06,237.60M605.42,234.48H606.50M605.97,234.00V238.80M605.30,236.16H606.50M605.42,237.84H606.38M607.04,234.48H608.96M608.00,234.00V235.92M606.80,235.92H609.20M607.16,236.64H608.84V238.56H607.16ZM607.16,237.60H608.84" stroke="#333" stroke-width="0.65" fill="none"/>
<path d="M615.17,233.90L613.32,233.90L612.10,238.80M612.71,236.35L614.10,236.35M615.47,236.03L616.86,236.03M615.11,237.49L616.49,237.49M618.39,238.80L619.61,233.90L617.37,237.33L619.22,237.33M622.52,233.90L620.86,233.90L620.06,236.35L621.45,236.35L621.71,237.17L621.50,237.98L620.84,238.80L619.91,238.80L619.65,237.98M623.12,233.90L621.90,238.80M624.38,235.54L622.19,237.66M623.04,236.84L623.75,238.80M624.35,238.80L625.57,233.90L626.20,238.80L627.42,233.90" stroke="#2a2a2a" stroke-width="0.62" fill="none" stroke-linecap="round" stroke-linejoin="round"/>
<path d="M599.58,243.00V247.80M599.10,244.44H600.01M599.10,245.98H600.01M600.30,243.38H601.38V245.40H600.30ZM600.30,244.44H601.38M600.83,245.40V247.80M600.25,246.65H601.50M602.33,243.00V247.80M601.80,244.20H602.76M601.80,245.64H602.76M601.92,247.32L602.76,246.60M603.12,243.48H604.20M603.67,243.00V247.80M603.00,245.16H604.20M603.12,246.84H604.08M604.62,243.96H606.78M605.22,243.00V245.16M606.18,243.00V245.16M604.74,245.16H606.66M605.70,245.16V247.80M604.62,246.36H606.78M604.98,247.56H606.42M607.44,243.24H609.36V247.56H607.44ZM607.44,244.68H609.36M607.44,246.12H609.36M608.40,243.24V247.56" stroke="#333" stroke-width="0.65" fill="none"/>
<path d="M613.32,242.90L612.10,247.80M615.22,242.90L613.99,247.80M612.71,245.35L614.60,245.35M615.54,245.03L616.96,245.03M615.17,246.49L616.59,246.49M618.13,243.72L618.81,242.90L619.76,242.90L620.03,243.72L619.78,244.70L617.11,247.80L619.01,247.80M622.74,242.90L621.03,242.90L620.23,245.35L621.65,245.35L621.92,246.17L621.72,246.98L621.04,247.80L620.09,247.80L619.82,246.98M623.82,242.90L624.77,242.90L625.04,243.72L624.22,246.98L623.55,247.80L622.60,247.80L622.33,246.98L623.15,243.72L623.82,242.90M625.45,244.54L624.63,247.80M625.29,245.19L625.73,244.54L626.11,244.54L626.23,245.19L625.58,247.80M626.23,245.19L626.68,244.54L627.06,244.54L627.18,245.19L626.53,247.80M628.24,244.54L627.42,247.80M628.08,245.19L628.52,244.54L628.90,244.54L629.02,245.19L628.37,247.80M629.02,245.19L629.47,244.54L629.85,244.54L629.97,245.19L629.32,247.80" stroke="#2a2a2a" stroke-width="0.62" fill="none" stroke-linecap="round" stroke-linejoin="round"/>
<path d="M596.36,251.85V256.35M596.00,253.35H596.84M596.12,255.10L596.84,254.35M597.15,251.85H598.28M597.15,253.35H598.28M597.15,254.85H598.28M597.15,256.35H598.28M597.44,251.85V256.35M598.04,251.85V256.35M599.06,251.85V256.35M598.70,253.35H599.54M598.82,255.10L599.54,254.35M599.85,251.85H600.98M599.85,253.35H600.98M599.85,254.85H600.98M599.85,256.35H600.98M600.14,251.85V256.35M600.74,251.85V256.35M601.93,251.60V256.60M601.40,252.85H602.36M601.40,254.35H602.36M601.52,256.10L602.36,255.35M602.72,252.10H603.80M603.27,251.60V256.60M602.60,253.85H603.80M602.72,255.60H603.68M604.34,252.10H605.06V256.10H604.34ZM604.34,254.10H605.06M605.42,251.60V256.60M605.42,252.60H606.38V255.60H605.42M605.42,254.10H606.38M607.04,252.10H607.76V256.10H607.04ZM607.04,254.10H607.76M608.12,251.60V256.60M608.12,252.60H609.08V255.60H608.12M608.12,254.10H609.08" stroke="#333" stroke-width="0.65" fill="none"/>
<path d="M613.32,251.70L612.10,256.60M615.21,251.70L612.51,254.97M613.45,253.83L613.99,256.60M615.53,253.83L616.95,253.83M615.16,255.29L616.58,255.29M618.12,252.52L618.80,251.70L619.74,251.70L620.01,252.52L619.77,253.50L617.10,256.60L618.99,256.60M621.30,251.70L622.25,251.70L622.52,252.52L621.70,255.78L621.02,256.60L620.08,256.60L619.81,255.78L620.63,252.52L621.30,251.70M623.81,251.70L624.75,251.70L625.02,252.52L624.20,255.78L623.53,256.60L622.58,256.60L622.31,255.78L623.13,252.52L623.81,251.70M624.61,256.60L625.84,251.70L626.50,256.60L627.72,251.70" stroke="#2a2a2a" stroke-width="0.62" fill="none" stroke-linecap="round" stroke-linejoin="round"/>
<line x1="453.40" y1="268.90" x2="689.00" y2="268.90" stroke="#9a9a9a" stroke-width="1.6"/>
<line x1="453.40" y1="279.92" x2="689.00" y2="279.92" stroke="#9a9a9a" stroke-width="1.6"/>
<line x1="453.40" y1="290.94" x2="689.00" y2="290.94" stroke="#9a9a9a" stroke-width="1.6"/>
<line x1="453.40" y1="301.96" x2="689.00" y2="301.96" stroke="#9a9a9a" stroke-width="1.6"/>
<line x1="453.40" y1="312.98" x2="689.00" y2="312.98" stroke="#9a9a9a" stroke-width="1.6"/>
<line x1="453.40" y1="324.00" x2="689.00" y2="324.00" stroke="#9a9a9a" stroke-width="1.6"/>
<line x1="453.40" y1="335.02" x2="689.00" y2="335.02" stroke="#9a9a9a" stroke-width="1.6"/>
<line x1="453.40" y1="346.04" x2="689.00" y2="346.04" stroke="#9a9a9a" stroke-width="1.6"/>
<line x1="453.40" y1="357.06" x2="689.00" y2="357.06" stroke="#9a9a9a" stroke-width="1.6"/>
<line x1="453.40" y1="368.08" x2="689.00" y2="368.08" stroke="#9a9a9a" stroke-width="1.6"/>
<line x1="453.40" y1="379.10" x2="689.00" y2="379.10" stroke="#9a9a9a" stroke-width="1.6"/>
<line x1="453.40" y1="390.12" x2="689.00" y2="390.12" stroke="#9a9a9a" stroke-width="1.6"/>
<line x1="453.40" y1="401.14" x2="689.00" y2="401.14" stroke="#9a9a9a" stroke-width="1.6"/>
<line x1="453.40" y1="412.16" x2="689.00" y2="412.16" stroke="#9a9a9a" stroke-width="1.6"/>
<line x1="469.20" y1="268.90" x2="469.20" y2="427.50" stroke="#666" stroke-width="0.9"/>
<line x1="539.40" y1="268.90" x2="539.40" y2="427.50" stroke="#666" stroke-width="0.9"/>
<line x1="555.40" y1="268.90" x2="555.40" y2="427.50" stroke="#666" stroke-width="0.9"/>
<line x1="586.80" y1="268.90" x2="586.80" y2="427.50" stroke="#666" stroke-width="0.9"/>
<line x1="649.90" y1="268.90" x2="649.90" y2="427.50" stroke="#666" stroke-width="0.9"/>
<line x1="453.40" y1="268.90" x2="453.40" y2="482.40" stroke="#222" stroke-width="1.1"/>
<path d="M463.00,273.26L464.12,272.05L462.61,278.10M465.11,273.06L465.95,272.05L467.12,272.05L467.46,273.06L467.21,274.07L466.37,275.08L465.54,275.08M466.37,275.08L466.70,276.08L466.45,277.09L465.61,278.10L464.44,278.10L464.10,277.09" stroke="#2a2a2a" stroke-width="0.62" fill="none" stroke-linecap="round" stroke-linejoin="round"/>
<path d="M489.88,271.94H492.88M491.38,271.20V274.16M489.50,274.16H493.25M490.06,275.27H492.69V278.23H490.06ZM490.06,276.75H492.69M493.69,272.68H497.06M494.62,271.20V274.53M496.12,271.20V274.53M493.88,274.53H496.88M495.38,274.53V278.60M493.69,276.38H497.06M494.25,278.23H496.50" stroke="#1a1a1a" stroke-width="0.95" fill="none"/>
<path d="M498.70,278.10L500.21,272.05L500.55,276.08L502.91,272.05L501.40,278.10M506.22,272.05L504.46,272.05L503.54,273.06L502.53,277.09L502.95,278.10L504.30,278.10L505.23,277.09L505.48,276.08L505.06,275.08L503.03,275.08M507.11,274.67L508.30,277.50M509.00,274.67L506.41,277.50M510.69,273.06L511.61,272.05L512.96,272.05L513.38,273.06L513.08,274.27L509.43,278.10L512.12,278.10M515.19,272.05L516.54,272.05L516.96,273.06L515.95,277.09L515.03,278.10L513.68,278.10L513.25,277.09L514.26,273.06L515.19,272.05" stroke="#2a2a2a" stroke-width="0.62" fill="none" stroke-linecap="round" stroke-linejoin="round"/>
<path d="M548.60,273.26L549.86,272.05L548.35,278.10" stroke="#2a2a2a" stroke-width="0.62" fill="none" stroke-linecap="round" stroke-linejoin="round"/>
<path d="M570.00,272.05L571.37,272.05L571.81,273.06L571.56,274.07L570.62,275.08L569.24,275.08L568.81,274.07L569.06,273.06L570.00,272.05M569.24,275.08L568.30,276.08L568.05,277.09L568.49,278.10L569.86,278.10L570.80,277.09L571.05,276.08L570.62,275.08M572.78,277.70L572.68,278.10M576.05,272.05L577.42,272.05L577.86,273.06L577.61,274.07L576.67,275.08L575.29,275.08L574.86,274.07L575.11,273.06L576.05,272.05M575.29,275.08L574.35,276.08L574.10,277.09L574.54,278.10L575.91,278.10L576.85,277.09L577.10,276.08L576.67,275.08" stroke="#2a2a2a" stroke-width="0.62" fill="none" stroke-linecap="round" stroke-linejoin="round"/>
<path d="M600.49,273.06L600.09,272.05L598.81,272.05L597.91,273.06L596.90,277.09L597.29,278.10L598.58,278.10L599.48,277.09L599.88,275.48L598.85,275.48M601.58,272.05L600.06,278.10L602.00,278.10L602.89,277.09L603.14,276.08L602.75,275.08L600.82,275.08M601.58,272.05L603.51,272.05L603.90,273.06L603.65,274.07L602.75,275.08M603.48,278.10L607.57,272.05M608.66,272.05L611.24,272.05M609.95,272.05L608.44,278.10M617.42,272.05L615.10,272.05L614.09,275.08L616.02,275.08L616.41,276.08L616.16,277.09L615.27,278.10L613.98,278.10L613.59,277.09M618.26,272.05L620.84,272.05L617.71,278.10M622.32,272.05L623.61,272.05L624.00,273.06L623.75,274.07L622.85,275.08L621.56,275.08L621.17,274.07L621.42,273.06L622.32,272.05M621.56,275.08L620.67,276.08L620.41,277.09L620.81,278.10L622.09,278.10L622.99,277.09L623.24,276.08L622.85,275.08M624.83,273.06L625.73,272.05L627.02,272.05L627.41,273.06L627.16,274.07L626.26,275.08L625.36,275.08M626.26,275.08L626.66,276.08L626.40,277.09L625.51,278.10L624.22,278.10L623.83,277.09M628.03,275.48L629.83,275.48M631.79,273.06L632.69,272.05L633.98,272.05L634.37,273.06L634.07,274.27L630.53,278.10L633.11,278.10M636.10,272.05L637.39,272.05L637.78,273.06L636.77,277.09L635.88,278.10L634.59,278.10L634.20,277.09L635.21,273.06L636.10,272.05M639.52,272.05L640.80,272.05L641.20,273.06L640.19,277.09L639.29,278.10L638.00,278.10L637.61,277.09L638.62,273.06L639.52,272.05M642.93,272.05L644.22,272.05L644.61,273.06L643.60,277.09L642.71,278.10L641.42,278.10L641.03,277.09L642.03,273.06L642.93,272.05" stroke="#2a2a2a" stroke-width="0.62" fill="none" stroke-linecap="round" stroke-linejoin="round"/>
<path d="M463.00,284.28L464.12,283.07L462.61,289.12M465.11,284.08L465.95,283.07L467.12,283.07L467.46,284.08L467.16,285.29L463.85,289.12L466.20,289.12" stroke="#2a2a2a" stroke-width="0.62" fill="none" stroke-linecap="round" stroke-linejoin="round"/>
<path d="M496.88,282.59H499.88V289.25H496.88ZM496.88,284.81H499.88M496.88,287.03H499.88M498.38,282.59V289.25M500.88,282.96H503.88M502.38,282.22V285.18M500.50,285.18H504.25M501.06,286.29H503.69V289.25H501.06ZM501.06,287.77H503.69" stroke="#1a1a1a" stroke-width="0.95" fill="none"/>
<path d="M509.91,283.07L507.96,283.07L506.96,284.08L505.95,288.11L506.45,289.12L507.95,289.12L508.95,288.11L509.20,287.10L508.71,286.10L506.46,286.10" stroke="#2a2a2a" stroke-width="0.62" fill="none" stroke-linecap="round" stroke-linejoin="round"/>
<path d="M548.60,284.28L549.86,283.07L548.35,289.12" stroke="#2a2a2a" stroke-width="0.62" fill="none" stroke-linecap="round" stroke-linejoin="round"/>
<path d="M569.12,283.07L567.24,283.07L566.26,284.08L565.25,288.11L565.72,289.12L567.17,289.12L568.15,288.11L568.40,287.10L567.93,286.10L565.76,286.10M573.24,283.07L570.64,283.07L569.59,286.10L571.76,286.10L572.23,287.10L571.98,288.11L571.01,289.12L569.56,289.12L569.09,288.11M572.67,289.12L574.18,283.07L574.62,287.10L577.08,283.07L575.56,289.12M577.51,285.09L576.51,289.12M577.26,286.10L578.24,285.09L579.68,285.09L580.16,286.10L579.40,289.12" stroke="#2a2a2a" stroke-width="0.62" fill="none" stroke-linecap="round" stroke-linejoin="round"/>
<path d="M603.75,284.08L603.34,283.07L602.02,283.07L601.11,284.08L600.10,288.11L600.51,289.12L601.83,289.12L602.74,288.11L603.14,286.50L602.09,286.50M604.86,283.07L603.35,289.12L605.32,289.12L606.24,288.11L606.49,287.10L606.08,286.10L604.10,286.10M604.86,283.07L606.84,283.07L607.24,284.08L606.99,285.09L606.08,286.10M606.84,289.12L610.99,283.07M612.11,283.07L614.75,283.07M613.43,283.07L611.92,289.12M620.33,286.10L618.35,286.10L617.94,285.09L618.19,284.08L619.10,283.07L620.42,283.07L620.83,284.08L619.82,288.11L618.91,289.12L617.20,289.12M621.69,284.08L622.60,283.07L623.92,283.07L624.33,284.08L624.08,285.09L623.16,286.10L622.24,286.10M623.16,286.10L623.57,287.10L623.32,288.11L622.41,289.12L621.09,289.12L620.68,288.11M624.98,286.50L626.82,286.50M629.42,284.28L630.65,283.07L629.14,289.12M633.91,286.10L631.94,286.10L631.53,285.09L631.78,284.08L632.69,283.07L634.01,283.07L634.42,284.08L633.41,288.11L632.50,289.12L630.78,289.12M636.19,283.07L637.51,283.07L637.91,284.08L637.66,285.09L636.75,286.10L635.43,286.10L635.02,285.09L635.28,284.08L636.19,283.07M635.43,286.10L634.52,287.10L634.27,288.11L634.68,289.12L635.99,289.12L636.91,288.11L637.16,287.10L636.75,286.10M639.02,283.07L641.66,283.07L638.50,289.12" stroke="#2a2a2a" stroke-width="0.62" fill="none" stroke-linecap="round" stroke-linejoin="round"/>
<path d="M463.06,295.30L464.27,294.09L462.76,300.14M465.98,295.30L467.19,294.09L465.68,300.14" stroke="#2a2a2a" stroke-width="0.62" fill="none" stroke-linecap="round" stroke-linejoin="round"/>
<path d="M493.32,293.24V300.64M492.50,295.09H494.00M492.50,297.31H494.00M492.69,299.90L494.00,298.79M494.56,293.98H496.25M495.43,293.24V300.64M494.38,296.57H496.25M494.56,299.16H496.06M496.88,293.98H499.88M498.38,293.24V296.20M496.50,296.20H500.25M497.06,297.31H499.69V300.27H497.06ZM497.06,298.79H499.69" stroke="#1a1a1a" stroke-width="0.95" fill="none"/>
<path d="M503.21,294.09L501.70,300.14L503.96,300.14L504.97,299.13L505.22,298.12L504.72,297.12L502.46,297.12M503.21,294.09L505.47,294.09L505.97,295.10L505.72,296.11L504.72,297.12M507.95,300.14L509.47,294.09L506.15,298.33L509.16,298.33M511.95,294.09L513.46,294.09L513.96,295.10L512.95,299.13L511.95,300.14L510.44,300.14L509.94,299.13L510.95,295.10L511.95,294.09" stroke="#2a2a2a" stroke-width="0.62" fill="none" stroke-linecap="round" stroke-linejoin="round"/>
<path d="M548.60,295.30L549.86,294.09L548.35,300.14" stroke="#2a2a2a" stroke-width="0.62" fill="none" stroke-linecap="round" stroke-linejoin="round"/>
<path d="M563.99,294.09L565.34,294.09L565.77,295.10L564.76,299.13L563.83,300.14L562.48,300.14L562.05,299.13L563.06,295.10L563.99,294.09M563.96,298.53L564.46,300.34M566.65,295.10L567.58,294.09L568.94,294.09L569.36,295.10L569.06,296.31L565.39,300.14L568.10,300.14M570.24,295.10L571.17,294.09L572.53,294.09L572.95,295.10L572.70,296.11L571.77,297.12L570.82,297.12M571.77,297.12L572.20,298.12L571.94,299.13L571.01,300.14L569.66,300.14L569.23,299.13M576.79,294.09L574.36,294.09L573.33,297.12L575.36,297.12L575.79,298.12L575.53,299.13L574.61,300.14L573.25,300.14L572.82,299.13M577.23,297.52L579.12,297.52M579.89,300.14L582.76,294.09L582.60,300.14M580.87,298.12L582.63,298.12" stroke="#2a2a2a" stroke-width="0.62" fill="none" stroke-linecap="round" stroke-linejoin="round"/>
<path d="M603.26,295.10L602.89,294.09L601.64,294.09L600.76,295.10L599.75,299.13L600.12,300.14L601.38,300.14L602.25,299.13L602.66,297.52L601.66,297.52M604.32,294.09L602.81,300.14L604.69,300.14L605.56,299.13L605.82,298.12L605.44,297.12L603.57,297.12M604.32,294.09L606.20,294.09L606.57,295.10L606.32,296.11L605.44,297.12M606.12,300.14L610.14,294.09M611.20,294.09L613.70,294.09M612.45,294.09L610.94,300.14M617.82,294.09L619.07,294.09L619.45,295.10L619.20,296.11L618.32,297.12L617.07,297.12L616.70,296.11L616.95,295.10L617.82,294.09M617.07,297.12L616.19,298.12L615.94,299.13L616.31,300.14L617.56,300.14L618.44,299.13L618.69,298.12L618.32,297.12M622.26,297.12L620.38,297.12L620.01,296.11L620.26,295.10L621.14,294.09L622.39,294.09L622.76,295.10L621.75,299.13L620.88,300.14L619.25,300.14M624.15,295.30L625.32,294.09L623.81,300.14M626.16,297.52L627.91,297.52M630.40,295.30L631.57,294.09L630.06,300.14M634.63,297.12L632.76,297.12L632.38,296.11L632.63,295.10L633.51,294.09L634.76,294.09L635.13,295.10L634.13,299.13L633.25,300.14L631.62,300.14M636.82,294.09L638.07,294.09L638.45,295.10L638.20,296.11L637.32,297.12L636.07,297.12L635.70,296.11L635.95,295.10L636.82,294.09M636.07,297.12L635.19,298.12L634.94,299.13L635.31,300.14L636.56,300.14L637.44,299.13L637.69,298.12L637.32,297.12M641.76,294.09L640.14,294.09L639.26,295.10L638.25,299.13L638.62,300.14L639.88,300.14L640.75,299.13L641.00,298.12L640.63,297.12L638.76,297.12" stroke="#2a2a2a" stroke-width="0.62" fill="none" stroke-linecap="round" stroke-linejoin="round"/>
<path d="M463.00,306.32L464.12,305.11L462.61,311.16M465.95,305.11L467.12,305.11L467.46,306.12L466.45,310.15L465.61,311.16L464.44,311.16L464.10,310.15L465.11,306.12L465.95,305.11" stroke="#2a2a2a" stroke-width="0.62" fill="none" stroke-linecap="round" stroke-linejoin="round"/>
<path d="M496.03,304.63V311.29M495.40,306.85H496.87M495.61,309.44L496.87,308.33M497.42,304.63H499.39M497.42,306.85H499.39M497.42,309.07H499.39M497.42,311.29H499.39M497.92,304.63V311.29M498.97,304.63V311.29" stroke="#1a1a1a" stroke-width="0.8" fill="none"/>
<path d="M507.44,304.26V311.66M506.60,306.48H508.20M506.60,308.85H508.20M508.70,304.85H510.59V307.96H508.70ZM508.70,306.48H510.59M509.62,307.96V311.66M508.62,309.88H510.80" stroke="#1a1a1a" stroke-width="0.8" fill="none"/>
<path d="M548.60,306.32L549.86,305.11L548.35,311.16" stroke="#2a2a2a" stroke-width="0.62" fill="none" stroke-linecap="round" stroke-linejoin="round"/>
<path d="M566.97,305.11L568.47,305.11L568.98,306.12L567.97,310.15L566.96,311.16L565.45,311.16L564.95,310.15L565.96,306.12L566.97,305.11M567.06,309.55L567.66,311.36M569.95,306.12L570.96,305.11L572.47,305.11L572.97,306.12L572.67,307.33L568.69,311.16L571.71,311.16M573.95,306.12L574.96,305.11L576.46,305.11L576.97,306.12L576.71,307.13L575.71,308.14L574.65,308.14M575.71,308.14L576.21,309.14L575.96,310.15L574.95,311.16L573.44,311.16L572.94,310.15M581.21,305.11L578.50,305.11L577.44,308.14L579.70,308.14L580.20,309.14L579.95,310.15L578.95,311.16L577.44,311.16L576.94,310.15" stroke="#2a2a2a" stroke-width="0.62" fill="none" stroke-linecap="round" stroke-linejoin="round"/>
<path d="M466.96,319.16L465.08,319.16L464.71,318.15L464.96,317.14L465.84,316.13L467.09,316.13L467.46,317.14L466.45,321.17L465.57,322.18L463.95,322.18" stroke="#2a2a2a" stroke-width="0.62" fill="none" stroke-linecap="round" stroke-linejoin="round"/>
<path d="M490.38,316.02H491.50V321.94H490.38ZM490.38,318.98H491.50M492.06,315.28V322.68M492.06,316.76H493.56V321.20H492.06M492.06,318.98H493.56M494.38,315.65H497.38V322.31H494.38ZM494.38,317.87H497.38M494.38,320.09H497.38M495.88,315.65V322.31" stroke="#1a1a1a" stroke-width="0.95" fill="none"/>
<path d="M499.20,322.18L500.71,316.13L501.02,320.16L503.33,316.13L501.82,322.18M506.55,316.13L504.84,316.13L503.94,317.14L502.93,321.17L503.33,322.18L504.64,322.18L505.55,321.17L505.80,320.16L505.40,319.16L503.43,319.16M507.40,318.75L508.53,321.58M509.24,318.75L506.70,321.58M511.49,317.34L512.71,316.13L511.20,322.18M516.45,316.13L514.74,316.13L513.84,317.14L512.83,321.17L513.23,322.18L514.54,322.18L515.45,321.17L515.70,320.16L515.30,319.16L513.33,319.16" stroke="#2a2a2a" stroke-width="0.62" fill="none" stroke-linecap="round" stroke-linejoin="round"/>
<path d="M548.60,317.34L549.86,316.13L548.35,322.18" stroke="#2a2a2a" stroke-width="0.62" fill="none" stroke-linecap="round" stroke-linejoin="round"/>
<path d="M569.86,322.18L571.37,316.13L568.25,320.37L571.00,320.37M572.78,321.78L572.68,322.18M576.05,316.13L577.42,316.13L577.86,317.14L577.61,318.15L576.67,319.16L575.29,319.16L574.86,318.15L575.11,317.14L576.05,316.13M575.29,319.16L574.35,320.16L574.10,321.17L574.54,322.18L575.91,322.18L576.85,321.17L577.10,320.16L576.67,319.16" stroke="#2a2a2a" stroke-width="0.62" fill="none" stroke-linecap="round" stroke-linejoin="round"/>
<path d="M603.84,317.14L603.45,316.13L602.16,316.13L601.26,317.14L600.25,321.17L600.65,322.18L601.94,322.18L602.84,321.17L603.24,319.56L602.21,319.56M604.94,316.13L603.42,322.18L605.36,322.18L606.26,321.17L606.51,320.16L606.12,319.16L604.18,319.16M604.94,316.13L606.88,316.13L607.27,317.14L607.02,318.15L606.12,319.16M606.85,322.18L610.95,316.13M612.05,316.13L614.63,316.13M613.34,316.13L611.83,322.18M620.58,316.13L618.89,316.13L618.00,317.14L616.99,321.17L617.38,322.18L618.68,322.18L619.57,321.17L619.83,320.16L619.43,319.16L617.49,319.16M622.32,316.13L623.61,316.13L624.01,317.14L623.75,318.15L622.86,319.16L621.56,319.16L621.17,318.15L621.42,317.14L622.32,316.13M621.56,319.16L620.67,320.16L620.41,321.17L620.81,322.18L622.10,322.18L623.00,321.17L623.25,320.16L622.86,319.16M624.63,319.56L626.44,319.56M628.40,317.14L629.30,316.13L630.59,316.13L630.99,317.14L630.68,318.35L627.14,322.18L629.73,322.18M632.72,316.13L634.02,316.13L634.41,317.14L633.40,321.17L632.50,322.18L631.21,322.18L630.82,321.17L631.83,317.14L632.72,316.13M636.15,316.13L637.44,316.13L637.84,317.14L636.83,321.17L635.93,322.18L634.64,322.18L634.24,321.17L635.25,317.14L636.15,316.13M639.57,316.13L640.87,316.13L641.26,317.14L640.25,321.17L639.35,322.18L638.06,322.18L637.67,321.17L638.68,317.14L639.57,316.13" stroke="#2a2a2a" stroke-width="0.62" fill="none" stroke-linecap="round" stroke-linejoin="round"/>
<path d="M465.84,327.15L467.09,327.15L467.46,328.16L467.21,329.17L466.33,330.18L465.08,330.18L464.71,329.17L464.96,328.16L465.84,327.15M465.08,330.18L464.20,331.18L463.95,332.19L464.32,333.20L465.57,333.20L466.45,332.19L466.70,331.18L466.33,330.18" stroke="#2a2a2a" stroke-width="0.62" fill="none" stroke-linecap="round" stroke-linejoin="round"/>
<path d="M492.80,327.04H495.95V332.96M492.80,327.04V333.33M493.62,328.89H495.12M494.38,327.78V332.22M493.44,331.11H495.31M496.88,327.04H498.00V332.96H496.88ZM496.88,330.00H498.00M498.56,326.30V333.70M498.56,327.78H500.06V332.22H498.56M498.56,330.00H500.06" stroke="#1a1a1a" stroke-width="0.95" fill="none"/>
<path d="M503.21,327.15L501.70,333.20L503.96,333.20L504.97,332.19L505.22,331.18L504.72,330.18L502.46,330.18M503.21,327.15L505.47,327.15L505.97,328.16L505.72,329.17L504.72,330.18M507.95,333.20L509.47,327.15L506.15,331.39L509.16,331.39M511.95,327.15L513.46,327.15L513.96,328.16L512.95,332.19L511.95,333.20L510.44,333.20L509.94,332.19L510.95,328.16L511.95,327.15" stroke="#2a2a2a" stroke-width="0.62" fill="none" stroke-linecap="round" stroke-linejoin="round"/>
<path d="M548.60,328.36L549.86,327.15L548.35,333.20" stroke="#2a2a2a" stroke-width="0.62" fill="none" stroke-linecap="round" stroke-linejoin="round"/>
<path d="M563.99,327.15L565.34,327.15L565.77,328.16L564.76,332.19L563.83,333.20L562.48,333.20L562.05,332.19L563.06,328.16L563.99,327.15M563.96,331.59L564.46,333.40M566.65,328.16L567.58,327.15L568.94,327.15L569.36,328.16L569.06,329.37L565.39,333.20L568.10,333.20M570.24,328.16L571.17,327.15L572.53,327.15L572.95,328.16L572.70,329.17L571.77,330.18L570.82,330.18M571.77,330.18L572.20,331.18L571.94,332.19L571.01,333.20L569.66,333.20L569.23,332.19M576.79,327.15L574.36,327.15L573.33,330.18L575.36,330.18L575.79,331.18L575.53,332.19L574.61,333.20L573.25,333.20L572.82,332.19M577.23,330.58L579.12,330.58M579.89,333.20L582.76,327.15L582.60,333.20M580.87,331.18L582.63,331.18" stroke="#2a2a2a" stroke-width="0.62" fill="none" stroke-linecap="round" stroke-linejoin="round"/>
<path d="M603.26,328.16L602.89,327.15L601.64,327.15L600.76,328.16L599.75,332.19L600.12,333.20L601.38,333.20L602.25,332.19L602.66,330.58L601.66,330.58M604.32,327.15L602.81,333.20L604.69,333.20L605.56,332.19L605.82,331.18L605.44,330.18L603.57,330.18M604.32,327.15L606.20,327.15L606.57,328.16L606.32,329.17L605.44,330.18M606.12,333.20L610.14,327.15M611.20,327.15L613.70,327.15M612.45,327.15L610.94,333.20M617.82,327.15L619.07,327.15L619.45,328.16L619.20,329.17L618.32,330.18L617.07,330.18L616.70,329.17L616.95,328.16L617.82,327.15M617.07,330.18L616.19,331.18L615.94,332.19L616.31,333.20L617.56,333.20L618.44,332.19L618.69,331.18L618.32,330.18M622.26,330.18L620.38,330.18L620.01,329.17L620.26,328.16L621.14,327.15L622.39,327.15L622.76,328.16L621.75,332.19L620.88,333.20L619.25,333.20M624.15,328.36L625.32,327.15L623.81,333.20M626.16,330.58L627.91,330.58M630.40,328.36L631.57,327.15L630.06,333.20M634.63,330.18L632.76,330.18L632.38,329.17L632.63,328.16L633.51,327.15L634.76,327.15L635.13,328.16L634.13,332.19L633.25,333.20L631.62,333.20M636.82,327.15L638.07,327.15L638.45,328.16L638.20,329.17L637.32,330.18L636.07,330.18L635.70,329.17L635.95,328.16L636.82,327.15M636.07,330.18L635.19,331.18L634.94,332.19L635.31,333.20L636.56,333.20L637.44,332.19L637.69,331.18L637.32,330.18M641.76,327.15L640.14,327.15L639.26,328.16L638.25,332.19L638.62,333.20L639.88,333.20L640.75,332.19L641.00,331.18L640.63,330.18L638.76,330.18" stroke="#2a2a2a" stroke-width="0.62" fill="none" stroke-linecap="round" stroke-linejoin="round"/>
<path d="M465.21,338.17L467.71,338.17L464.64,344.22" stroke="#2a2a2a" stroke-width="0.62" fill="none" stroke-linecap="round" stroke-linejoin="round"/>
<path d="M495.61,338.80H499.39M496.66,337.32V340.65M498.34,337.32V340.65M495.82,340.65H499.18M497.50,340.65V344.72M495.61,342.50H499.39M496.24,344.35H498.76" stroke="#1a1a1a" stroke-width="0.8" fill="none"/>
<path d="M507.44,337.32V344.72M506.60,339.54H508.20M506.60,341.91H508.20M508.70,337.91H510.59V341.02H508.70ZM508.70,339.54H510.59M509.62,341.02V344.72M508.62,342.94H510.80" stroke="#1a1a1a" stroke-width="0.8" fill="none"/>
<path d="M548.60,339.38L549.86,338.17L548.35,344.22" stroke="#2a2a2a" stroke-width="0.62" fill="none" stroke-linecap="round" stroke-linejoin="round"/>
<path d="M566.97,338.17L568.47,338.17L568.98,339.18L567.97,343.21L566.96,344.22L565.45,344.22L564.95,343.21L565.96,339.18L566.97,338.17M567.06,342.61L567.66,344.42M569.95,339.18L570.96,338.17L572.47,338.17L572.97,339.18L572.67,340.39L568.69,344.22L571.71,344.22M573.95,339.18L574.96,338.17L576.46,338.17L576.97,339.18L576.71,340.19L575.71,341.20L574.65,341.20M575.71,341.20L576.21,342.20L575.96,343.21L574.95,344.22L573.44,344.22L572.94,343.21M581.21,338.17L578.50,338.17L577.44,341.20L579.70,341.20L580.20,342.20L579.95,343.21L578.95,344.22L577.44,344.22L576.94,343.21" stroke="#2a2a2a" stroke-width="0.62" fill="none" stroke-linecap="round" stroke-linejoin="round"/>
<path d="M467.46,349.19L465.84,349.19L464.96,350.20L463.95,354.23L464.32,355.24L465.57,355.24L466.45,354.23L466.70,353.22L466.33,352.22L464.46,352.22" stroke="#2a2a2a" stroke-width="0.62" fill="none" stroke-linecap="round" stroke-linejoin="round"/>
<path d="M486.62,348.34V355.74M485.80,350.19H487.30M485.80,352.41H487.30M485.99,355.00L487.30,353.89M487.86,349.08H489.55M488.73,348.34V355.74M487.68,351.67H489.55M487.86,354.26H489.36M490.62,348.34V355.74M489.80,350.19H491.30M489.80,352.41H491.30M489.99,355.00L491.30,353.89M491.86,349.08H493.55M492.73,348.34V355.74M491.68,351.67H493.55M491.86,354.26H493.36M494.55,348.34V355.74M493.80,350.56H495.23M493.80,352.93H495.23M495.68,348.93H497.36V352.04H495.68ZM495.68,350.56H497.36M496.50,352.04V355.74M495.60,353.96H497.55M498.62,348.34V355.74M497.80,350.19H499.30M497.80,352.41H499.30M497.99,355.00L499.30,353.89M499.86,349.08H501.55M500.73,348.34V355.74M499.68,351.67H501.55M499.86,354.26H501.36" stroke="#1a1a1a" stroke-width="0.95" fill="none"/>
<path d="M503.00,355.24L504.51,349.19L504.81,353.22L507.12,349.19L505.60,355.24M508.61,349.19L509.91,349.19L510.31,350.20L510.06,351.21L509.16,352.22L507.86,352.22L507.46,351.21L507.71,350.20L508.61,349.19M507.86,352.22L506.95,353.22L506.70,354.23L507.10,355.24L508.40,355.24L509.30,354.23L509.56,353.22L509.16,352.22M511.15,351.81L512.26,354.64M512.97,351.81L510.44,354.64M514.61,350.20L515.51,349.19L516.81,349.19L517.21,350.20L516.91,351.41L513.35,355.24L515.95,355.24M520.91,349.19L518.57,349.19L517.55,352.22L519.51,352.22L519.90,353.22L519.65,354.23L518.75,355.24L517.45,355.24L517.05,354.23" stroke="#2a2a2a" stroke-width="0.62" fill="none" stroke-linecap="round" stroke-linejoin="round"/>
<path d="M548.60,350.40L549.86,349.19L548.35,355.24" stroke="#2a2a2a" stroke-width="0.62" fill="none" stroke-linecap="round" stroke-linejoin="round"/>
<path d="M568.83,350.40L570.22,349.19L568.71,355.24M572.67,355.24L574.18,349.19L570.79,353.43L573.89,353.43M575.96,349.19L574.45,355.24M579.06,349.19L577.55,355.24M575.20,352.22L578.31,352.22" stroke="#2a2a2a" stroke-width="0.62" fill="none" stroke-linecap="round" stroke-linejoin="round"/>
<path d="M604.61,350.20L604.22,349.19L602.95,349.19L602.06,350.20L601.05,354.23L601.44,355.24L602.71,355.24L603.60,354.23L604.00,352.62L602.98,352.62M605.69,349.19L604.18,355.24L606.09,355.24L606.97,354.23L607.23,353.22L606.84,352.22L604.93,352.22M605.69,349.19L607.60,349.19L607.98,350.20L607.73,351.21L606.84,352.22M607.55,355.24L611.61,349.19M612.69,349.19L615.24,349.19M613.97,349.19L612.45,355.24M618.81,349.19L621.35,349.19L618.25,355.24M622.52,350.40L623.71,349.19L622.20,355.24M624.57,352.62L626.35,352.62M628.88,350.40L630.08,349.19L628.57,355.24M633.21,352.22L631.30,352.22L630.91,351.21L631.16,350.20L632.05,349.19L633.32,349.19L633.71,350.20L632.70,354.23L631.81,355.24L630.16,355.24M635.43,349.19L636.70,349.19L637.08,350.20L636.83,351.21L635.94,352.22L634.67,352.22L634.29,351.21L634.54,350.20L635.43,349.19M634.67,352.22L633.78,353.22L633.53,354.23L633.91,355.24L635.19,355.24L636.08,354.23L636.33,353.22L635.94,352.22M640.71,349.19L638.42,349.19L637.41,352.22L639.32,352.22L639.70,353.22L639.45,354.23L638.56,355.24L637.29,355.24L636.90,354.23" stroke="#2a2a2a" stroke-width="0.62" fill="none" stroke-linecap="round" stroke-linejoin="round"/>
<path d="M467.71,360.21L465.46,360.21L464.46,363.24L466.33,363.24L466.70,364.24L466.45,365.25L465.57,366.26L464.32,366.26L463.95,365.25" stroke="#2a2a2a" stroke-width="0.62" fill="none" stroke-linecap="round" stroke-linejoin="round"/>
<path d="M495.74,360.10H499.26V366.02M495.74,360.10V366.39M496.66,361.95H498.34M497.50,360.84V365.28M496.45,364.17H498.55" stroke="#1a1a1a" stroke-width="0.8" fill="none"/>
<path d="M507.02,360.10H508.28V366.02H507.02ZM507.02,363.06H508.28M508.91,359.36V366.76M508.91,360.84H510.59V365.28H508.91M508.91,363.06H510.59" stroke="#1a1a1a" stroke-width="0.8" fill="none"/>
<path d="M548.60,361.42L549.86,360.21L548.35,366.26" stroke="#2a2a2a" stroke-width="0.62" fill="none" stroke-linecap="round" stroke-linejoin="round"/>
<path d="M558.31,360.21L560.95,360.21L556.80,366.26L559.44,366.26M564.20,361.22L563.80,360.21L562.47,360.21L561.56,361.22L560.55,365.25L560.96,366.26L562.28,366.26L563.20,365.25M564.81,362.23L564.06,365.25L564.46,366.26L565.79,366.26L566.70,365.25M567.45,362.23L566.45,366.26M571.21,361.22L570.80,360.21L569.48,360.21L568.57,361.22L568.31,362.23L568.72,363.24L570.04,363.24L570.45,364.24L570.20,365.25L569.29,366.26L567.97,366.26L567.56,365.25M571.82,362.23L570.81,366.26M571.56,363.24L572.48,362.23L573.80,362.23L574.21,363.24L573.45,366.26M576.18,361.42L577.41,360.21L575.89,366.26M579.45,360.21L580.78,360.21L581.18,361.22L580.18,365.25L579.26,366.26L577.94,366.26L577.53,365.25L578.54,361.22L579.45,360.21M580.78,366.26L582.30,360.21L584.28,360.21L584.69,361.22L584.43,362.23L583.52,363.24L581.54,363.24M586.16,361.42L587.38,360.21L585.87,366.26" stroke="#2a2a2a" stroke-width="0.62" fill="none" stroke-linecap="round" stroke-linejoin="round"/>
<path d="M465.57,377.28L467.09,371.23L464.15,375.47L466.65,375.47" stroke="#2a2a2a" stroke-width="0.62" fill="none" stroke-linecap="round" stroke-linejoin="round"/>
<path d="M495.82,371.12H497.08V377.04H495.82ZM495.82,374.08H497.08M497.71,370.38V377.78M497.71,371.86H499.39V376.30H497.71M497.71,374.08H499.39" stroke="#1a1a1a" stroke-width="0.8" fill="none"/>
<path d="M507.44,370.38V377.78M506.60,372.60H508.20M506.60,374.97H508.20M508.70,370.97H510.59V374.08H508.70ZM508.70,372.60H510.59M509.62,374.08V377.78M508.62,376.00H510.80" stroke="#1a1a1a" stroke-width="0.8" fill="none"/>
<path d="M548.60,372.44L549.86,371.23L548.35,377.28" stroke="#2a2a2a" stroke-width="0.62" fill="none" stroke-linecap="round" stroke-linejoin="round"/>
<path d="M571.06,377.28L572.58,371.23L569.45,375.47L572.21,375.47M574.85,371.23L576.22,371.23L576.66,372.24L575.65,376.27L574.71,377.28L573.34,377.28L572.90,376.27L573.91,372.24L574.85,371.23" stroke="#2a2a2a" stroke-width="0.62" fill="none" stroke-linecap="round" stroke-linejoin="round"/>
<path d="M464.96,383.26L465.84,382.25L467.09,382.25L467.46,383.26L467.21,384.27L466.33,385.28L465.46,385.28M466.33,385.28L466.70,386.28L466.45,387.29L465.57,388.30L464.32,388.30L463.95,387.29" stroke="#2a2a2a" stroke-width="0.62" fill="none" stroke-linecap="round" stroke-linejoin="round"/>
<path d="M490.55,381.40V388.80M489.80,383.62H491.23M489.80,385.99H491.23M491.68,381.99H493.36V385.10H491.68ZM491.68,383.62H493.36M492.50,385.10V388.80M491.60,387.02H493.55M494.36,381.77V388.43M493.80,383.99H495.11M493.99,386.58L495.11,385.47M495.60,381.77H497.36M495.60,383.99H497.36M495.60,386.21H497.36M495.60,388.43H497.36M496.05,381.77V388.43M496.99,381.77V388.43" stroke="#1a1a1a" stroke-width="0.95" fill="none"/>
<path d="M499.00,388.30L500.51,382.25L500.81,386.28L503.12,382.25L501.60,388.30M504.61,382.25L505.91,382.25L506.31,383.26L506.06,384.27L505.16,385.28L503.86,385.28L503.46,384.27L503.71,383.26L504.61,382.25M503.86,385.28L502.95,386.28L502.70,387.29L503.10,388.30L504.40,388.30L505.30,387.29L505.56,386.28L505.16,385.28M507.15,384.87L508.26,387.70M508.97,384.87L506.44,387.70M510.61,383.26L511.51,382.25L512.81,382.25L513.21,383.26L512.91,384.47L509.35,388.30L511.95,388.30M514.96,382.25L516.26,382.25L516.66,383.26L515.65,387.29L514.75,388.30L513.45,388.30L513.05,387.29L514.06,383.26L514.96,382.25" stroke="#2a2a2a" stroke-width="0.62" fill="none" stroke-linecap="round" stroke-linejoin="round"/>
<path d="M548.60,383.46L549.86,382.25L548.35,388.30" stroke="#2a2a2a" stroke-width="0.62" fill="none" stroke-linecap="round" stroke-linejoin="round"/>
<path d="M569.86,388.30L571.37,382.25L568.25,386.49L571.00,386.49M572.78,387.90L572.68,388.30M576.05,382.25L577.42,382.25L577.86,383.26L577.61,384.27L576.67,385.28L575.29,385.28L574.86,384.27L575.11,383.26L576.05,382.25M575.29,385.28L574.35,386.28L574.10,387.29L574.54,388.30L575.91,388.30L576.85,387.29L577.10,386.28L576.67,385.28" stroke="#2a2a2a" stroke-width="0.62" fill="none" stroke-linecap="round" stroke-linejoin="round"/>
<path d="M603.84,383.26L603.45,382.25L602.16,382.25L601.26,383.26L600.25,387.29L600.65,388.30L601.94,388.30L602.84,387.29L603.24,385.68L602.21,385.68M604.94,382.25L603.42,388.30L605.36,388.30L606.26,387.29L606.51,386.28L606.12,385.28L604.18,385.28M604.94,382.25L606.88,382.25L607.27,383.26L607.02,384.27L606.12,385.28M606.85,388.30L610.95,382.25M612.05,382.25L614.63,382.25M613.34,382.25L611.83,388.30M620.58,382.25L618.89,382.25L618.00,383.26L616.99,387.29L617.38,388.30L618.68,388.30L619.57,387.29L619.83,386.28L619.43,385.28L617.49,385.28M622.32,382.25L623.61,382.25L624.01,383.26L623.75,384.27L622.86,385.28L621.56,385.28L621.17,384.27L621.42,383.26L622.32,382.25M621.56,385.28L620.67,386.28L620.41,387.29L620.81,388.30L622.10,388.30L623.00,387.29L623.25,386.28L622.86,385.28M624.63,385.68L626.44,385.68M628.40,383.26L629.30,382.25L630.59,382.25L630.99,383.26L630.68,384.47L627.14,388.30L629.73,388.30M632.72,382.25L634.02,382.25L634.41,383.26L633.40,387.29L632.50,388.30L631.21,388.30L630.82,387.29L631.83,383.26L632.72,382.25M636.15,382.25L637.44,382.25L637.84,383.26L636.83,387.29L635.93,388.30L634.64,388.30L634.24,387.29L635.25,383.26L636.15,382.25M639.57,382.25L640.87,382.25L641.26,383.26L640.25,387.29L639.35,388.30L638.06,388.30L637.67,387.29L638.68,383.26L639.57,382.25" stroke="#2a2a2a" stroke-width="0.62" fill="none" stroke-linecap="round" stroke-linejoin="round"/>
<path d="M464.96,394.28L465.84,393.27L467.09,393.27L467.46,394.28L467.16,395.49L463.70,399.32L466.20,399.32" stroke="#2a2a2a" stroke-width="0.62" fill="none" stroke-linecap="round" stroke-linejoin="round"/>
<path d="M493.06,392.79V399.45M492.50,395.01H493.81M492.69,397.60L493.81,396.49M494.30,392.79H496.06M494.30,395.01H496.06M494.30,397.23H496.06M494.30,399.45H496.06M494.75,392.79V399.45M495.69,392.79V399.45M496.88,393.16H499.88M498.38,392.42V395.38M496.50,395.38H500.25M497.06,396.49H499.69V399.45H497.06ZM497.06,397.97H499.69" stroke="#1a1a1a" stroke-width="0.95" fill="none"/>
<path d="M503.21,393.27L501.70,399.32L503.96,399.32L504.97,398.31L505.22,397.30L504.72,396.30L502.46,396.30M503.21,393.27L505.47,393.27L505.97,394.28L505.72,395.29L504.72,396.30M509.92,393.27L507.96,393.27L506.95,394.28L505.95,398.31L506.45,399.32L507.95,399.32L508.96,398.31L509.21,397.30L508.71,396.30L506.45,396.30M511.95,393.27L513.46,393.27L513.96,394.28L512.95,398.31L511.95,399.32L510.44,399.32L509.94,398.31L510.95,394.28L511.95,393.27" stroke="#2a2a2a" stroke-width="0.62" fill="none" stroke-linecap="round" stroke-linejoin="round"/>
<path d="M548.60,394.48L549.86,393.27L548.35,399.32" stroke="#2a2a2a" stroke-width="0.62" fill="none" stroke-linecap="round" stroke-linejoin="round"/>
<path d="M563.99,393.27L565.34,393.27L565.77,394.28L564.76,398.31L563.83,399.32L562.48,399.32L562.05,398.31L563.06,394.28L563.99,393.27M563.96,397.71L564.46,399.52M566.65,394.28L567.58,393.27L568.94,393.27L569.36,394.28L569.06,395.49L565.39,399.32L568.10,399.32M570.24,394.28L571.17,393.27L572.53,393.27L572.95,394.28L572.70,395.29L571.77,396.30L570.82,396.30M571.77,396.30L572.20,397.30L571.94,398.31L571.01,399.32L569.66,399.32L569.23,398.31M576.79,393.27L574.36,393.27L573.33,396.30L575.36,396.30L575.79,397.30L575.53,398.31L574.61,399.32L573.25,399.32L572.82,398.31M577.23,396.70L579.12,396.70M579.89,399.32L582.76,393.27L582.60,399.32M580.87,397.30L582.63,397.30" stroke="#2a2a2a" stroke-width="0.62" fill="none" stroke-linecap="round" stroke-linejoin="round"/>
<path d="M603.26,394.28L602.89,393.27L601.64,393.27L600.76,394.28L599.75,398.31L600.12,399.32L601.38,399.32L602.25,398.31L602.66,396.70L601.66,396.70M604.32,393.27L602.81,399.32L604.69,399.32L605.56,398.31L605.82,397.30L605.44,396.30L603.57,396.30M604.32,393.27L606.20,393.27L606.57,394.28L606.32,395.29L605.44,396.30M606.12,399.32L610.14,393.27M611.20,393.27L613.70,393.27M612.45,393.27L610.94,399.32M617.82,393.27L619.07,393.27L619.45,394.28L619.20,395.29L618.32,396.30L617.07,396.30L616.70,395.29L616.95,394.28L617.82,393.27M617.07,396.30L616.19,397.30L615.94,398.31L616.31,399.32L617.56,399.32L618.44,398.31L618.69,397.30L618.32,396.30M622.26,396.30L620.38,396.30L620.01,395.29L620.26,394.28L621.14,393.27L622.39,393.27L622.76,394.28L621.75,398.31L620.88,399.32L619.25,399.32M624.15,394.48L625.32,393.27L623.81,399.32M626.16,396.70L627.91,396.70M630.40,394.48L631.57,393.27L630.06,399.32M634.63,396.30L632.76,396.30L632.38,395.29L632.63,394.28L633.51,393.27L634.76,393.27L635.13,394.28L634.13,398.31L633.25,399.32L631.62,399.32M636.82,393.27L638.07,393.27L638.45,394.28L638.20,395.29L637.32,396.30L636.07,396.30L635.70,395.29L635.95,394.28L636.82,393.27M636.07,396.30L635.19,397.30L634.94,398.31L635.31,399.32L636.56,399.32L637.44,398.31L637.69,397.30L637.32,396.30M641.76,393.27L640.14,393.27L639.26,394.28L638.25,398.31L638.62,399.32L639.88,399.32L640.75,398.31L641.00,397.30L640.63,396.30L638.76,396.30" stroke="#2a2a2a" stroke-width="0.62" fill="none" stroke-linecap="round" stroke-linejoin="round"/>
<path d="M465.69,405.50L467.09,404.29L465.57,410.34" stroke="#2a2a2a" stroke-width="0.62" fill="none" stroke-linecap="round" stroke-linejoin="round"/>
<path d="M495.82,404.18H499.18M497.50,403.44V406.40M495.40,406.40H499.60M496.03,407.51H498.97V410.47H496.03ZM496.03,408.99H498.97" stroke="#1a1a1a" stroke-width="0.8" fill="none"/>
<path d="M507.23,403.81V410.47M506.60,406.03H508.07M506.81,408.62L508.07,407.51M508.62,403.81H510.59M508.62,406.03H510.59M508.62,408.25H510.59M508.62,410.47H510.59M509.12,403.81V410.47M510.17,403.81V410.47" stroke="#1a1a1a" stroke-width="0.8" fill="none"/>
<path d="M548.60,405.50L549.86,404.29L548.35,410.34" stroke="#2a2a2a" stroke-width="0.62" fill="none" stroke-linecap="round" stroke-linejoin="round"/>
<path d="M564.61,404.29L563.10,410.34M567.50,404.29L565.99,410.34M563.86,407.32L566.74,407.32M568.44,404.29L571.33,404.29M569.88,404.29L568.37,410.34M572.02,405.30L572.99,404.29L574.43,404.29L574.90,405.30L574.60,406.51L570.76,410.34L573.64,410.34M576.82,404.29L578.26,404.29L578.73,405.30L577.72,409.33L576.75,410.34L575.31,410.34L574.84,409.33L575.84,405.30L576.82,404.29M580.65,404.29L582.09,404.29L582.56,405.30L581.55,409.33L580.58,410.34L579.13,410.34L578.66,409.33L579.67,405.30L580.65,404.29" stroke="#2a2a2a" stroke-width="0.62" fill="none" stroke-linecap="round" stroke-linejoin="round"/>
<path d="M457.82,416.50V424.00M457.10,418.75H458.47M457.10,421.15H458.47M458.90,417.10H460.52V420.25H458.90ZM458.90,418.75H460.52M459.69,420.25V424.00M458.83,422.20H460.70M461.36,417.25H464.24M462.80,416.50V419.50M461.00,419.50H464.60M461.54,420.62H464.06V423.62H461.54ZM461.54,422.12H464.06" stroke="#1a1a1a" stroke-width="0.85" fill="none"/>
<path d="M489.80,416.88H493.00V423.62H489.80ZM489.80,419.12H493.00M489.80,421.38H493.00M491.40,416.88V423.62" stroke="#1a1a1a" stroke-width="0.9" fill="none"/>
<path d="M513.20,417.25H514.40V423.25H513.20ZM513.20,420.25H514.40M515.00,416.50V424.00M515.00,418.00H516.60V422.50H515.00M515.00,420.25H516.60" stroke="#1a1a1a" stroke-width="0.9" fill="none"/>
<path d="M544.49,417.25H547.51V423.25M544.49,417.25V423.62M545.28,419.12H546.72M546.00,418.00V422.50M545.10,421.38H546.90M548.46,417.25H549.54V423.25H548.46ZM548.46,420.25H549.54M550.08,416.50V424.00M550.08,418.00H551.52V422.50H550.08M550.08,420.25H551.52" stroke="#1a1a1a" stroke-width="0.85" fill="none"/>
<path d="M563.79,418.00H567.21M564.74,416.50V419.88M566.26,416.50V419.88M563.98,419.88H567.02M565.50,419.88V424.00M563.79,421.75H567.21M564.36,423.62H566.64" stroke="#1a1a1a" stroke-width="0.9" fill="none"/>
<path d="M574.99,418.00H578.41M575.94,416.50V419.88M577.46,416.50V419.88M575.18,419.88H578.22M576.70,419.88V424.00M574.99,421.75H578.41M575.56,423.62H577.84" stroke="#1a1a1a" stroke-width="0.9" fill="none"/>
<path d="M609.64,416.50V424.00M608.80,418.38H610.32M608.80,420.62H610.32M608.99,423.25L610.32,422.12M610.89,417.25H612.60M611.76,416.50V424.00M610.70,419.88H612.60M610.89,422.50H612.41" stroke="#1a1a1a" stroke-width="0.9" fill="none"/>
<path d="M629.30,417.25H632.50V423.25M629.30,417.25V423.62M630.14,419.12H631.66M630.90,418.00V422.50M629.95,421.38H631.85" stroke="#1a1a1a" stroke-width="0.9" fill="none"/>
<path d="M661.88,417.25H664.92M663.40,416.50V419.50M661.50,419.50H665.30M662.07,420.62H664.73V423.62H662.07ZM662.07,422.12H664.73" stroke="#1a1a1a" stroke-width="0.9" fill="none"/>
<path d="M670.19,418.00H673.61M671.14,416.50V419.88M672.66,416.50V419.88M670.38,419.88H673.42M671.90,419.88V424.00M670.19,421.75H673.61M670.76,423.62H673.04" stroke="#1a1a1a" stroke-width="0.9" fill="none"/>
<line x1="453.40" y1="427.50" x2="689.00" y2="427.50" stroke="#111" stroke-width="1.4"/>
<line x1="555.50" y1="427.50" x2="555.50" y2="482.40" stroke="#222" stroke-width="1"/>
<line x1="453.40" y1="449.40" x2="689.00" y2="449.40" stroke="#333" stroke-width="1"/>
<line x1="555.50" y1="438.60" x2="689.00" y2="438.60" stroke="#8a8a8a" stroke-width="1.2"/>
<line x1="579.30" y1="427.50" x2="579.30" y2="449.40" stroke="#555" stroke-width="0.9"/>
<line x1="618.50" y1="427.50" x2="618.50" y2="449.40" stroke="#555" stroke-width="0.9"/>
<line x1="641.50" y1="427.50" x2="641.50" y2="449.40" stroke="#555" stroke-width="0.9"/>
<line x1="618.50" y1="449.40" x2="618.50" y2="482.40" stroke="#333" stroke-width="0.9"/>
<line x1="453.40" y1="460.40" x2="555.50" y2="460.40" stroke="#8a8a8a" stroke-width="1.2"/>
<line x1="453.40" y1="471.30" x2="555.50" y2="471.30" stroke="#8a8a8a" stroke-width="1.2"/>
<line x1="476.70" y1="449.40" x2="476.70" y2="482.40" stroke="#333" stroke-width="0.9"/>
<line x1="531.70" y1="449.40" x2="531.70" y2="482.40" stroke="#555" stroke-width="0.9"/>
<path d="M487.90,434.40V441.60M487.30,436.80H488.70M487.50,439.60L488.70,438.40M489.22,434.40H491.10M489.22,436.80H491.10M489.22,439.20H491.10M489.22,441.60H491.10M489.70,434.40V441.60M490.70,434.40V441.60M495.65,434.40V441.60M495.05,436.80H496.45M495.25,439.60L496.45,438.40M496.97,434.40H498.85M496.97,436.80H498.85M496.97,439.20H498.85M496.97,441.60H498.85M497.45,434.40V441.60M498.45,434.40V441.60M503.20,434.80H506.40M504.80,434.00V437.20M502.80,437.20H506.80M503.40,438.40H506.20V441.60H503.40ZM503.40,440.00H506.20M510.95,434.80H512.15V441.20H510.95ZM510.95,438.00H512.15M512.75,434.00V442.00M512.75,435.60H514.35V440.40H512.75M512.75,438.00H514.35M519.18,434.00V442.00M518.30,436.00H519.90M518.30,438.40H519.90M518.50,441.20L519.90,440.00M520.50,434.80H522.30M521.42,434.00V442.00M520.30,437.60H522.30M520.50,440.40H522.10" stroke="#1a1a1a" stroke-width="1.0" fill="none"/>
<path d="M458.17,452.10H461.13M459.65,451.40V454.20M457.80,454.20H461.50M458.36,455.25H460.94V458.05H458.36ZM458.36,456.65H460.94" stroke="#1a1a1a" stroke-width="0.9" fill="none"/>
<path d="M468.99,452.80H472.31M469.91,451.40V454.55M471.39,451.40V454.55M469.17,454.55H472.13M470.65,454.55V458.40M468.99,456.30H472.31M469.54,458.05H471.76" stroke="#1a1a1a" stroke-width="0.9" fill="none"/>
<path d="M458.10,463.50H461.20V469.10M458.10,463.50V469.45M458.91,465.25H460.39M459.65,464.20V468.40M458.73,467.35H460.57" stroke="#1a1a1a" stroke-width="0.9" fill="none"/>
<path d="M469.17,463.15H472.13V469.45H469.17ZM469.17,465.25H472.13M469.17,467.35H472.13M470.65,463.15V469.45" stroke="#1a1a1a" stroke-width="0.9" fill="none"/>
<path d="M458.17,474.30H461.13M459.65,473.60V476.40M457.80,476.40H461.50M458.36,477.45H460.94V480.25H458.36ZM458.36,478.85H460.94" stroke="#1a1a1a" stroke-width="0.9" fill="none"/>
<path d="M469.10,474.30H472.20V479.90M469.10,474.30V480.25M469.91,476.05H471.39M470.65,475.00V479.20M469.73,478.15H471.57" stroke="#1a1a1a" stroke-width="0.9" fill="none"/>
<path d="M561.70,430.00V437.00M561.00,431.75H562.28M561.00,433.85H562.28M561.16,436.30L562.28,435.25M562.76,430.70H564.20M563.50,430.00V437.00M562.60,433.15H564.20M562.76,435.60H564.04" stroke="#1a1a1a" stroke-width="0.9" fill="none"/>
<path d="M570.28,430.35V436.65M569.80,432.45H570.92M569.96,434.90L570.92,433.85M571.34,430.35H572.84M571.34,432.45H572.84M571.34,434.55H572.84M571.34,436.65H572.84M571.72,430.35V436.65M572.52,430.35V436.65" stroke="#1a1a1a" stroke-width="0.9" fill="none"/>
<path d="M624.75,430.70H627.55M626.15,430.00V432.80M624.40,432.80H627.90M624.92,433.85H627.38V436.65H624.92ZM624.92,435.25H627.38" stroke="#1a1a1a" stroke-width="0.9" fill="none"/>
<path d="M632.70,430.00V437.00M632.00,432.10H633.33M632.00,434.34H633.33M633.75,430.56H635.33V433.50H633.75ZM633.75,432.10H635.33M634.52,433.50V437.00M633.68,435.32H635.50" stroke="#1a1a1a" stroke-width="0.9" fill="none"/>
<path d="M561.32,442.10H562.28V447.70H561.32ZM561.32,444.90H562.28M562.76,441.40V448.40M562.76,442.80H564.04V447.00H562.76M562.76,444.90H564.04" stroke="#1a1a1a" stroke-width="0.9" fill="none"/>
<path d="M570.28,441.75V448.05M569.80,443.85H570.92M569.96,446.30L570.92,445.25M571.34,441.75H572.84M571.34,443.85H572.84M571.34,445.95H572.84M571.34,448.05H572.84M571.72,441.75V448.05M572.52,441.75V448.05" stroke="#1a1a1a" stroke-width="0.9" fill="none"/>
<path d="M624.75,442.10H627.55M626.15,441.40V444.20M624.40,444.20H627.90M624.92,445.25H627.38V448.05H624.92ZM624.92,446.65H627.38" stroke="#1a1a1a" stroke-width="0.9" fill="none"/>
<path d="M632.17,442.80H635.33M633.05,441.40V444.55M634.45,441.40V444.55M632.35,444.55H635.15M633.75,444.55V448.40M632.17,446.30H635.33M632.70,448.05H634.80" stroke="#1a1a1a" stroke-width="0.9" fill="none"/>
<path d="M592.14,432.52L593.46,431.43L592.09,436.90M599.29,433.25L599.19,433.62M598.46,436.54L598.37,436.90M603.85,432.34L604.83,431.43L606.32,431.43L606.84,432.34L606.57,433.43L602.71,436.90L605.70,436.90" stroke="#2a2a2a" stroke-width="0.62" fill="none" stroke-linecap="round" stroke-linejoin="round"/>
<path d="M662.35,436.90L665.29,431.43L665.49,436.90M663.36,435.08L665.40,435.08M667.65,432.34L668.66,431.43L670.23,431.43L670.79,432.34L670.56,433.25L669.55,434.16L668.45,434.16M669.55,434.16L670.11,435.08L669.88,435.99L668.87,436.90L667.30,436.90L666.74,435.99" stroke="#2a2a2a" stroke-width="0.62" fill="none" stroke-linecap="round" stroke-linejoin="round"/>
<path d="M598.44,444.02L599.77,442.93L598.40,448.40" stroke="#2a2a2a" stroke-width="0.62" fill="none" stroke-linecap="round" stroke-linejoin="round"/>
<path d="M578.19,463.50H581.61M579.14,461.90V465.50M580.66,461.90V465.50M578.38,465.50H581.42M579.90,465.50V469.90M578.19,467.50H581.61M578.76,469.50H581.04M584.30,462.70H587.50V469.10M584.30,462.70V469.50M585.14,464.70H586.66M585.90,463.50V468.30M584.95,467.10H586.85M590.38,462.70H593.42M591.90,461.90V465.10M590.00,465.10H593.80M590.57,466.30H593.23V469.50H590.57ZM590.57,467.90H593.23M596.38,462.30H599.42V469.50H596.38ZM596.38,464.70H599.42M596.38,467.10H599.42M597.90,462.30V469.50" stroke="#1a1a1a" stroke-width="1.0" fill="none"/></svg></body></html>
